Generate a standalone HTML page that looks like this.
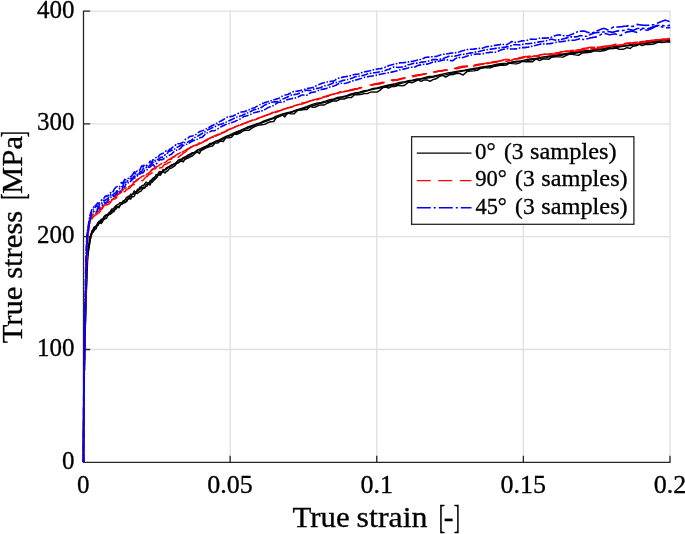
<!DOCTYPE html>
<html lang="en"><head><meta charset="utf-8"><title>True stress vs true strain</title>
<style>
html,body{margin:0;padding:0;background:#fff;}
body{width:685px;height:534px;overflow:hidden;}
svg{display:block;}
text{font-family:"Liberation Serif","DejaVu Serif",serif;fill:#000;stroke:#000;stroke-width:0.3px;}
.tk{font-size:25px;}
.lb{font-size:29px;}
.lg{font-size:22.5px;}
.k{stroke:#000;}
.r{stroke:#f00;}
.b{stroke:#00f;stroke-width:1.6;}
.ldr{stroke:#f00;stroke-dasharray:14 7.5;}
.ldb{stroke:#00f;stroke-width:1.5;stroke-dasharray:14 3 2 3;}
.c{fill:none;stroke-width:1.45;stroke-linejoin:round;}
</style></head><body>
<svg width="685" height="534" viewBox="0 0 685 534">
<rect width="685" height="534" fill="#fff"/>
<path d="M230.12 11.1 V462.3 M376.75 11.1 V462.3 M523.38 11.1 V462.3 M670.00 11.1 V462.3 M83.5 349.50 H670.0 M83.5 236.70 H670.0 M83.5 123.90 H670.0 M83.5 11.10 H670.0 " fill="none" stroke="#dfdfdf" stroke-width="1.3"/>
<path d="M83.5 11.1 V462.3 H670.0 M83.50 462.3 v-6 M230.12 462.3 v-6 M376.75 462.3 v-6 M523.38 462.3 v-6 M670.00 462.3 v-6 M83.5 462.30 h6 M83.5 349.50 h6 M83.5 236.70 h6 M83.5 123.90 h6 M83.5 11.10 h6 " fill="none" stroke="#262626" stroke-width="1.3" stroke-linecap="square"/>
<g class="c">
<path class="k" d="M83.5 462.0 L83.5 460.9 L83.5 459.6 L83.5 458.2 L83.5 457.2 L83.5 456.0 L83.5 454.5 L83.5 453.4 L83.5 452.3 L83.5 450.8 L83.5 449.4 L83.5 448.2 L83.5 446.8 L83.5 445.5 L83.5 444.3 L83.5 443.2 L83.5 441.7 L83.5 440.3 L83.5 439.0 L83.5 437.5 L83.5 436.2 L83.5 434.6 L83.5 433.5 L83.5 432.1 L83.5 430.9 L83.5 429.6 L83.5 428.3 L83.5 427.1 L83.5 425.6 L83.6 424.1 L83.6 423.0 L83.6 421.8 L83.6 420.6 L83.6 419.5 L83.6 418.0 L83.6 416.7 L83.6 415.6 L83.6 414.2 L83.6 413.0 L83.6 411.5 L83.6 410.4 L83.6 409.3 L83.6 408.2 L83.7 406.9 L83.7 405.7 L83.7 404.1 L83.7 402.7 L83.7 401.5 L83.7 400.5 L83.7 399.3 L83.7 397.8 L83.7 396.5 L83.8 395.1 L83.8 394.0 L83.8 393.0 L83.8 391.5 L83.8 390.1 L83.8 388.9 L83.8 387.7 L83.8 386.6 L83.8 385.5 L83.9 384.5 L83.9 383.0 L83.9 381.7 L83.9 380.6 L83.9 379.2 L83.9 378.0 L84.0 377.0 L84.0 375.6 L84.0 374.1 L84.0 373.0 L84.0 371.6 L84.0 370.4 L84.1 369.4 L84.1 368.3 L84.1 367.1 L84.1 365.7 L84.1 364.4 L84.2 362.9 L84.2 361.8 L84.2 360.6 L84.2 359.4 L84.2 357.8 L84.3 356.3 L84.3 355.1 L84.3 353.8 L84.3 352.6 L84.3 351.2 L84.4 350.1 L84.4 349.1 L84.4 347.8 L84.4 346.7 L84.5 345.2 L84.5 343.8 L84.5 342.4 L84.5 341.1 L84.6 339.7 L84.6 338.2 L84.6 336.7 L84.7 335.6 L84.7 334.2 L84.7 333.1 L84.7 331.8 L84.8 330.4 L84.8 328.9 L84.8 327.5 L84.9 326.4 L84.9 325.2 L84.9 324.1 L84.9 322.5 L85.0 321.4 L85.0 320.2 L85.0 319.0 L85.1 317.9 L85.1 316.4 L85.1 315.1 L85.2 314.0 L85.2 312.7 L85.2 311.6 L85.3 310.2 L85.3 309.1 L85.3 308.0 L85.3 306.9 L85.4 305.6 L85.4 304.2 L85.5 303.0 L85.5 301.6 L85.5 300.4 L85.6 299.3 L85.6 298.1 L85.6 296.9 L85.7 295.4 L85.7 294.3 L85.7 293.2 L85.8 291.9 L85.8 290.3 L85.9 288.8 L85.9 287.4 L86.0 286.4 L86.0 284.9 L86.1 283.5 L86.1 282.4 L86.1 281.1 L86.2 280.1 L86.2 278.6 L86.3 277.2 L86.3 275.7 L86.4 274.3 L86.4 273.1 L86.5 271.7 L86.5 270.5 L86.5 269.4 L86.6 268.2 L86.6 266.9 L86.7 265.7 L86.7 264.4 L86.8 263.0 L86.8 261.9 L86.9 260.5 L86.9 259.3 L87.0 257.9 L87.1 256.7 L87.3 255.2 L87.4 254.0 L87.6 252.7 L87.8 251.3 L88.0 249.9 L88.1 248.7 L88.4 247.1 L88.5 246.2 L88.7 244.9 L88.9 243.6 L89.1 242.6 L89.3 241.2 L89.5 239.7 L89.8 238.3 L90.1 237.2 L90.5 235.7 L90.9 234.3 L91.3 233.3 L91.8 231.1 L92.4 230.3 L93.2 229.3 L93.9 227.3 L94.6 226.8 L95.5 226.6 L96.3 225.5 L97.1 224.3 L98.0 222.4 L99.1 221.2 L100.0 221.3 L101.1 219.3 L101.9 219.1 L102.9 218.9 L104.0 216.6 L105.1 215.5 L106.2 214.9 L107.3 214.5 L108.5 213.3 L109.3 212.4 L110.5 211.6 L111.5 209.2 L112.4 209.0 L113.5 208.8 L114.5 207.2 L115.6 206.0 L116.8 205.1 L117.7 204.5 L118.9 204.1 L119.9 202.7 L121.0 202.6 L122.1 202.7 L123.1 200.7 L124.2 200.8 L125.5 199.1 L126.5 197.4 L127.4 197.3 L128.3 196.1 L129.4 196.4 L130.8 194.1 L131.7 195.0 L133.1 193.4 L134.3 190.9 L135.3 191.9 L136.5 191.6 L137.5 189.3 L138.8 189.5 L140.0 186.9 L141.1 187.4 L142.2 185.4 L143.6 185.7 L145.0 183.4 L146.2 182.1 L147.4 183.1 L148.8 183.3 L150.2 180.5 L151.2 180.5 L152.1 179.2 L153.2 177.9 L154.3 177.4 L155.2 177.1 L156.2 174.6 L157.2 174.7 L158.2 173.5 L159.6 171.5 L160.9 172.2 L161.9 171.7 L163.0 169.5 L164.4 170.1 L165.9 168.3 L167.5 167.2 L168.8 167.2 L170.3 165.6 L172.0 164.7 L173.4 164.4 L175.1 163.3 L176.6 162.2 L178.0 160.4 L179.8 159.3 L181.3 159.6 L183.3 157.6 L185.5 156.8 L187.9 155.0 L190.1 154.2 L192.0 152.7 L194.7 152.4 L197.6 149.9 L200.7 148.6 L203.6 147.2 L206.7 146.0 L209.6 143.8 L212.3 142.9 L215.3 141.4 L219.1 139.8 L222.5 138.2 L226.5 136.2 L230.5 134.6 L234.5 132.7 L239.5 130.8 L243.1 129.1 L247.2 127.3 L250.9 126.0 L255.8 124.2 L260.0 122.9 L264.0 120.9 L267.7 119.7 L272.1 118.3 L276.2 116.1 L279.9 114.9 L283.4 113.8 L287.5 112.7 L292.0 111.7 L296.4 109.9 L301.4 108.4 L306.5 106.6 L311.7 104.6 L316.6 103.1 L321.0 102.5 L325.5 101.1 L329.7 99.6 L334.0 98.9 L337.6 97.4 L342.6 96.6 L346.7 95.6 L350.3 94.2 L354.7 93.0 L359.6 92.2 L364.0 90.7 L368.3 90.1 L373.1 88.5 L377.1 88.0 L380.7 87.0 L385.4 85.8 L390.1 84.7 L395.3 83.8 L399.7 82.4 L404.8 81.6 L408.5 80.8 L412.3 80.2 L417.1 78.9 L421.2 78.6 L425.0 77.4 L429.0 76.5 L433.4 76.1 L437.7 75.3 L442.5 74.1 L447.9 72.9 L452.3 72.3 L456.4 71.4 L461.2 70.6 L464.9 70.3 L469.4 69.2 L473.8 68.4 L478.3 67.7 L482.1 66.9 L487.0 66.3 L491.9 65.4 L497.1 64.3 L502.7 63.5 L507.2 63.2 L512.2 62.0 L516.9 61.1 L521.1 60.9 L526.6 59.6 L531.9 58.6 L537.5 58.1 L542.9 56.9 L548.5 56.1 L552.6 55.7 L556.5 55.0 L560.7 54.3 L565.4 53.6 L570.6 52.8 L575.3 52.5 L580.2 51.4 L585.5 50.7 L589.5 50.6 L594.8 49.4 L598.7 49.2 L603.1 48.6 L608.4 47.5 L613.7 46.6 L618.4 46.3 L622.9 45.7 L628.4 45.0 L632.9 44.2 L636.9 43.9 L641.3 43.4 L645.3 42.3 L650.8 42.1 L655.0 41.3 L660.9 40.4 L665.3 39.8 L669.7 39.7"/>
<path class="k" d="M83.5 462.0 L83.5 460.5 L83.5 459.4 L83.5 458.4 L83.5 456.8 L83.5 455.7 L83.5 454.5 L83.5 453.4 L83.5 452.0 L83.5 450.9 L83.5 449.5 L83.5 448.3 L83.5 446.8 L83.5 445.3 L83.5 443.9 L83.5 442.6 L83.6 441.3 L83.6 439.8 L83.6 438.4 L83.6 437.2 L83.6 436.1 L83.6 434.6 L83.6 433.3 L83.6 432.2 L83.6 430.8 L83.6 429.5 L83.6 428.3 L83.6 426.8 L83.6 425.6 L83.6 424.5 L83.7 423.3 L83.7 422.1 L83.7 420.6 L83.7 419.2 L83.7 418.1 L83.7 416.8 L83.7 415.7 L83.7 414.3 L83.7 412.8 L83.7 411.8 L83.8 410.4 L83.8 409.3 L83.8 408.1 L83.8 406.7 L83.8 405.1 L83.8 403.9 L83.8 402.6 L83.8 401.4 L83.9 400.3 L83.9 399.0 L83.9 397.8 L83.9 396.4 L83.9 395.0 L83.9 393.9 L84.0 392.5 L84.0 391.4 L84.0 390.0 L84.0 388.8 L84.0 387.4 L84.0 386.0 L84.1 384.6 L84.1 383.5 L84.1 382.0 L84.1 380.8 L84.1 379.4 L84.1 378.1 L84.2 376.8 L84.2 375.4 L84.2 374.2 L84.2 372.7 L84.3 371.5 L84.3 370.0 L84.3 368.6 L84.3 367.1 L84.3 365.8 L84.4 364.6 L84.4 363.1 L84.4 361.8 L84.4 360.5 L84.5 359.1 L84.5 357.9 L84.5 356.4 L84.5 355.0 L84.6 353.6 L84.6 352.4 L84.6 350.9 L84.7 349.4 L84.7 348.0 L84.7 346.5 L84.7 345.4 L84.8 343.9 L84.8 342.5 L84.8 341.2 L84.9 340.1 L84.9 338.8 L84.9 337.6 L84.9 336.6 L85.0 335.0 L85.0 333.6 L85.0 332.2 L85.1 330.8 L85.1 329.4 L85.2 328.1 L85.2 327.0 L85.2 325.8 L85.2 324.5 L85.3 323.2 L85.3 322.0 L85.3 320.9 L85.4 319.7 L85.4 318.5 L85.4 317.0 L85.5 315.9 L85.5 314.6 L85.5 313.3 L85.6 312.1 L85.6 310.8 L85.7 309.5 L85.7 308.5 L85.7 306.9 L85.8 305.6 L85.8 304.5 L85.9 302.9 L85.9 301.8 L85.9 300.4 L86.0 299.1 L86.0 298.0 L86.1 296.7 L86.1 295.4 L86.1 294.2 L86.2 293.0 L86.2 291.8 L86.3 290.5 L86.3 289.1 L86.3 288.0 L86.4 286.9 L86.4 285.5 L86.5 284.4 L86.5 283.0 L86.6 281.7 L86.6 280.2 L86.7 279.0 L86.7 277.5 L86.8 276.4 L86.8 275.3 L86.9 273.9 L86.9 272.8 L86.9 271.5 L87.0 270.1 L87.0 269.0 L87.1 267.5 L87.1 266.3 L87.2 264.8 L87.3 263.7 L87.3 262.6 L87.3 261.3 L87.4 260.1 L87.5 258.9 L87.6 257.4 L87.7 256.1 L87.8 255.1 L87.9 254.0 L88.1 252.7 L88.3 251.2 L88.5 249.8 L88.7 248.6 L88.8 247.4 L89.0 246.2 L89.2 245.0 L89.3 244.1 L89.6 242.5 L89.8 241.4 L90.0 240.2 L90.3 238.5 L90.5 237.4 L90.8 237.0 L91.2 234.9 L91.7 233.6 L92.1 232.1 L92.8 231.1 L93.5 230.1 L94.3 229.0 L95.1 228.0 L95.9 226.4 L96.7 225.4 L97.4 224.9 L98.3 224.0 L99.2 222.7 L100.1 223.3 L101.2 221.1 L102.3 220.1 L103.5 218.4 L104.5 218.8 L105.5 216.3 L106.4 215.2 L107.2 214.9 L108.2 215.2 L109.1 213.1 L110.1 214.0 L111.0 212.3 L112.3 210.1 L113.3 210.2 L114.3 210.8 L115.5 207.9 L116.7 206.5 L117.9 206.8 L119.2 206.3 L120.4 205.2 L121.4 203.4 L122.7 202.7 L123.6 202.1 L124.9 201.6 L126.0 201.4 L127.0 199.1 L128.1 199.1 L129.2 197.2 L130.6 196.8 L131.8 194.8 L133.1 194.0 L134.2 193.9 L135.3 192.3 L136.3 192.7 L137.6 190.8 L138.6 190.5 L139.7 189.5 L140.7 188.6 L142.1 187.9 L143.5 187.5 L144.7 187.9 L146.1 184.4 L147.2 184.5 L148.5 183.3 L149.7 182.1 L150.8 181.9 L152.0 180.1 L153.0 179.6 L154.0 179.4 L155.2 176.5 L156.4 176.6 L157.8 175.4 L158.9 173.6 L159.9 173.6 L161.0 172.7 L162.1 171.6 L163.2 171.7 L164.4 169.7 L165.9 169.8 L167.0 168.6 L168.5 167.3 L169.7 167.0 L170.9 166.2 L172.3 165.9 L173.7 163.9 L175.2 163.7 L176.6 162.8 L178.3 162.7 L180.3 160.3 L181.7 160.5 L183.3 158.4 L185.3 158.1 L187.2 156.9 L189.1 156.0 L191.7 154.2 L193.9 152.6 L196.7 151.2 L199.4 150.9 L201.5 149.4 L204.1 147.7 L206.5 147.1 L209.5 145.1 L213.2 143.3 L215.9 141.9 L218.7 141.2 L221.6 140.0 L225.0 137.8 L228.3 136.6 L233.1 134.6 L237.7 132.8 L242.6 129.9 L246.9 128.6 L251.6 126.8 L256.2 124.6 L260.1 123.5 L264.6 121.8 L268.5 120.4 L272.7 118.7 L277.5 117.1 L281.4 115.6 L285.1 114.6 L290.0 112.8 L294.3 111.3 L298.1 109.9 L302.2 109.2 L306.1 107.9 L311.2 106.3 L315.6 104.7 L320.7 103.2 L325.1 102.4 L330.3 100.8 L335.5 99.0 L340.1 97.9 L345.1 96.6 L349.2 95.5 L353.0 94.4 L357.7 93.6 L361.4 92.6 L365.8 91.3 L370.6 89.9 L375.6 88.9 L380.9 87.8 L384.9 87.1 L390.1 85.7 L394.7 85.0 L399.5 83.7 L404.0 82.6 L409.2 81.1 L413.5 80.5 L417.2 79.7 L422.4 78.9 L427.3 78.0 L432.4 77.2 L436.3 76.2 L440.4 75.1 L445.3 74.9 L450.4 73.5 L455.4 72.5 L460.2 71.6 L465.2 70.5 L469.2 70.2 L473.9 69.3 L478.2 68.8 L483.4 67.8 L488.1 66.9 L493.3 66.2 L498.4 65.0 L503.9 64.1 L509.3 63.2 L513.2 62.4 L518.3 61.8 L522.8 61.0 L526.8 60.6 L531.6 59.7 L537.0 58.5 L542.4 58.1 L546.4 57.7 L550.7 56.4 L555.8 55.9 L561.6 55.2 L565.6 54.3 L569.6 53.9 L574.8 53.2 L579.9 52.2 L585.3 51.8 L589.6 51.2 L594.5 50.1 L599.9 49.6 L604.5 49.2 L609.2 48.3 L613.2 47.9 L618.7 47.1 L623.5 46.3 L628.1 45.9 L633.3 45.1 L638.9 44.1 L644.6 43.6 L649.2 43.1 L654.4 42.4 L659.1 41.4 L664.7 40.9 L670.2 40.4"/>
<path class="k" d="M83.5 462.0 L83.5 460.9 L83.5 459.5 L83.5 458.0 L83.5 456.7 L83.5 455.6 L83.5 454.4 L83.5 453.1 L83.5 451.7 L83.5 450.2 L83.5 448.8 L83.5 447.5 L83.6 446.0 L83.6 444.7 L83.6 443.3 L83.6 442.2 L83.6 440.9 L83.6 439.8 L83.6 438.7 L83.6 437.5 L83.6 436.1 L83.6 435.0 L83.6 433.6 L83.6 432.4 L83.6 431.2 L83.6 429.7 L83.7 428.3 L83.7 427.1 L83.7 426.0 L83.7 424.7 L83.7 423.2 L83.7 421.9 L83.7 420.7 L83.7 419.6 L83.7 418.4 L83.7 417.0 L83.8 415.9 L83.8 414.3 L83.8 412.9 L83.8 411.6 L83.8 410.5 L83.8 409.2 L83.8 407.7 L83.8 406.6 L83.9 405.4 L83.9 404.3 L83.9 402.9 L83.9 401.4 L83.9 400.0 L83.9 398.8 L84.0 397.3 L84.0 395.9 L84.0 394.4 L84.0 393.2 L84.0 392.0 L84.0 391.0 L84.1 389.8 L84.1 388.5 L84.1 387.1 L84.1 385.8 L84.1 384.6 L84.2 383.1 L84.2 381.8 L84.2 380.4 L84.2 378.9 L84.2 377.6 L84.3 376.4 L84.3 374.9 L84.3 373.7 L84.3 372.6 L84.3 371.2 L84.4 369.9 L84.4 368.7 L84.4 367.3 L84.4 366.2 L84.5 364.9 L84.5 363.4 L84.5 361.9 L84.5 360.6 L84.6 359.1 L84.6 357.7 L84.6 356.6 L84.7 355.1 L84.7 353.7 L84.7 352.4 L84.7 350.8 L84.8 349.5 L84.8 348.3 L84.8 347.0 L84.9 345.7 L84.9 344.2 L84.9 342.7 L85.0 341.5 L85.0 340.2 L85.0 339.1 L85.0 337.8 L85.1 336.3 L85.1 335.2 L85.1 333.8 L85.2 332.7 L85.2 331.2 L85.2 329.8 L85.3 328.3 L85.3 327.1 L85.3 326.0 L85.4 324.6 L85.4 323.6 L85.4 322.1 L85.5 321.0 L85.5 319.9 L85.5 318.8 L85.6 317.3 L85.6 316.3 L85.6 315.0 L85.7 313.9 L85.7 312.5 L85.8 311.4 L85.8 310.3 L85.8 308.8 L85.9 307.5 L85.9 306.4 L86.0 304.9 L86.0 303.6 L86.0 302.4 L86.1 301.0 L86.1 299.7 L86.2 298.2 L86.2 296.9 L86.3 295.7 L86.3 294.4 L86.3 292.9 L86.4 291.8 L86.4 290.4 L86.5 289.1 L86.5 287.7 L86.6 286.4 L86.6 285.3 L86.7 283.9 L86.7 282.4 L86.8 281.1 L86.8 280.0 L86.9 278.6 L86.9 277.3 L87.0 275.9 L87.0 274.8 L87.1 273.4 L87.1 272.1 L87.2 270.6 L87.2 269.5 L87.3 268.4 L87.3 267.2 L87.4 265.8 L87.4 264.4 L87.5 262.9 L87.5 261.8 L87.6 260.4 L87.6 259.4 L87.7 258.2 L87.8 257.2 L87.9 255.8 L88.1 254.3 L88.3 253.0 L88.4 251.6 L88.6 250.1 L88.8 248.9 L89.0 247.8 L89.2 246.4 L89.4 245.2 L89.6 243.9 L89.8 243.0 L90.0 241.6 L90.2 240.4 L90.4 239.3 L90.7 238.4 L90.9 237.2 L91.2 235.7 L91.6 235.1 L92.1 233.0 L92.5 232.4 L93.2 232.3 L93.8 231.0 L94.6 230.1 L95.2 229.2 L96.1 228.8 L96.8 226.9 L97.6 224.3 L98.3 225.2 L99.3 221.5 L100.2 221.5 L101.2 223.5 L102.3 222.0 L103.5 219.8 L104.5 219.2 L105.3 218.6 L106.5 218.2 L107.5 216.0 L108.4 215.2 L109.5 214.4 L110.7 213.9 L111.6 213.3 L112.5 212.0 L113.7 211.9 L114.8 209.5 L115.8 209.4 L116.8 208.1 L118.1 206.8 L119.0 207.8 L120.0 205.8 L121.1 204.4 L122.4 204.1 L123.5 202.5 L124.4 202.9 L125.7 202.1 L127.0 201.2 L128.1 198.8 L129.4 198.5 L130.7 199.1 L131.8 196.6 L133.1 196.8 L134.4 196.0 L135.8 192.8 L137.3 193.6 L138.5 192.4 L139.6 191.7 L140.8 191.4 L142.1 189.5 L143.3 188.4 L144.5 188.0 L145.7 186.4 L147.2 186.0 L148.7 183.2 L149.9 185.1 L151.1 182.5 L152.2 182.3 L153.2 181.1 L154.6 179.6 L155.8 178.6 L157.0 177.3 L158.2 175.0 L159.3 174.8 L160.4 175.2 L161.9 172.6 L163.5 171.6 L165.0 173.0 L166.3 171.5 L167.7 170.9 L169.2 168.8 L170.6 168.2 L172.2 167.6 L174.0 166.4 L175.4 165.1 L177.3 162.9 L179.0 162.5 L181.1 160.7 L183.2 161.9 L184.7 159.5 L186.7 158.5 L188.4 158.0 L190.4 156.7 L192.7 155.8 L194.7 153.8 L197.0 151.9 L199.3 153.5 L201.2 150.4 L203.4 149.5 L205.5 148.1 L207.8 147.2 L210.4 146.4 L212.5 146.0 L215.1 143.1 L217.7 143.1 L220.2 141.0 L223.2 141.5 L225.8 137.9 L229.0 137.8 L231.4 137.4 L234.3 134.0 L236.7 134.4 L240.1 133.0 L243.3 130.8 L245.9 130.3 L248.7 130.4 L251.2 128.6 L254.7 126.6 L258.1 125.4 L261.6 124.8 L264.8 124.4 L267.5 122.9 L270.5 121.8 L273.7 121.5 L276.6 117.3 L279.1 116.5 L282.2 114.6 L284.8 116.9 L287.5 112.8 L290.9 113.9 L294.1 113.7 L297.6 110.4 L300.9 110.1 L304.2 109.5 L306.9 109.6 L310.3 106.3 L312.9 107.4 L315.4 107.0 L318.3 105.6 L321.0 104.9 L324.4 105.0 L327.2 103.2 L329.8 102.2 L333.3 100.9 L336.9 100.9 L340.3 99.0 L344.0 99.0 L347.5 97.5 L351.2 97.6 L354.6 94.8 L358.1 94.8 L361.7 94.2 L364.3 93.6 L367.3 93.6 L370.6 92.1 L373.6 91.9 L377.2 92.1 L379.8 90.4 L382.5 87.9 L385.5 86.8 L388.5 88.2 L392.1 86.4 L394.7 86.5 L398.3 85.2 L402.1 85.9 L404.7 85.2 L408.5 82.1 L411.9 82.8 L414.7 81.6 L418.3 79.9 L421.1 81.3 L424.1 79.9 L427.0 79.9 L430.1 81.3 L432.9 79.6 L435.9 78.8 L439.3 76.6 L442.5 75.3 L445.7 77.1 L449.5 74.8 L453.2 74.5 L455.9 73.5 L459.5 73.4 L463.1 75.0 L466.9 71.6 L470.0 71.1 L473.8 70.9 L477.2 70.4 L480.4 68.4 L483.7 67.2 L486.8 67.9 L490.3 67.7 L493.6 66.5 L497.4 65.7 L500.6 65.2 L503.3 65.3 L506.2 65.1 L509.3 63.1 L512.6 63.6 L516.3 63.9 L519.7 62.9 L522.5 61.2 L525.6 61.7 L528.9 61.6 L532.6 61.8 L536.2 58.8 L539.7 60.6 L542.6 59.0 L546.0 59.1 L549.0 59.2 L551.7 57.2 L555.4 56.7 L558.9 56.9 L562.9 57.1 L566.5 55.3 L569.5 54.0 L572.2 54.3 L575.4 54.9 L578.5 55.3 L581.9 53.1 L585.0 52.8 L587.7 52.6 L590.5 52.3 L593.6 51.0 L597.1 51.0 L600.0 51.3 L602.9 50.7 L605.9 50.2 L609.5 48.7 L613.2 48.6 L616.6 48.0 L619.3 49.4 L623.2 49.3 L627.1 47.6 L630.2 48.5 L632.9 46.2 L636.2 45.8 L639.1 44.4 L642.3 45.5 L645.5 44.4 L648.6 44.5 L652.5 44.4 L655.8 43.2 L658.6 42.0 L662.1 42.6 L666.0 42.0 L669.0 41.7 L670.4 42.2"/>
<path class="r" d="M83.5 462.0 L83.5 461.0 L83.5 460.0 L83.5 459.0 L83.5 458.0 L83.5 457.0 L83.5 456.0 L83.5 455.0 L83.5 454.0 L83.5 453.0 L83.5 452.0 L83.5 451.0 L83.5 450.0 L83.5 449.6 M83.5 441.8 L83.5 440.8 L83.5 439.8 L83.5 438.8 L83.5 437.8 L83.5 436.8 L83.5 435.8 L83.5 434.8 L83.5 433.8 L83.5 432.8 L83.5 431.8 L83.5 430.8 L83.6 429.8 L83.6 428.8 L83.6 428.0 M83.6 420.4 L83.6 419.4 L83.6 418.4 L83.6 417.4 L83.6 416.4 L83.6 415.4 L83.6 414.4 L83.6 413.4 L83.7 412.4 L83.7 411.4 L83.7 410.4 L83.7 409.4 L83.7 408.4 L83.7 407.4 L83.7 406.6 M83.8 398.8 L83.8 397.8 L83.8 396.8 L83.8 395.8 L83.8 394.8 L83.8 393.8 L83.8 392.8 L83.8 391.8 L83.9 390.8 L83.9 389.8 L83.9 388.8 L83.9 387.8 L83.9 386.8 L83.9 385.8 L83.9 385.0 M84.0 377.4 L84.0 376.4 L84.0 375.4 L84.1 374.4 L84.1 373.4 L84.1 372.4 L84.1 371.4 L84.1 370.4 L84.1 369.4 L84.1 368.4 L84.2 367.4 L84.2 366.4 L84.2 365.4 L84.2 364.4 L84.2 363.6 M84.3 355.8 L84.3 354.8 L84.4 353.8 L84.4 352.8 L84.4 351.8 L84.4 350.8 L84.4 349.8 L84.4 348.8 L84.5 347.8 L84.5 346.8 L84.5 345.8 L84.5 344.8 L84.5 343.8 L84.5 342.8 L84.6 342.0 M84.7 334.4 L84.7 333.4 L84.7 332.4 L84.7 331.4 L84.8 330.4 L84.8 329.4 L84.8 328.4 L84.8 327.4 L84.8 326.4 L84.9 325.4 L84.9 324.4 L84.9 323.4 L84.9 322.4 L84.9 321.4 L85.0 320.6 M85.1 312.8 L85.1 311.8 L85.1 310.8 L85.2 309.8 L85.2 308.8 L85.2 307.8 L85.2 306.8 L85.3 305.8 L85.3 304.8 L85.3 303.8 L85.3 302.8 L85.3 301.8 L85.4 300.8 L85.4 299.8 L85.4 299.0 M85.6 291.4 L85.6 290.4 L85.6 289.4 L85.6 288.4 L85.7 287.4 L85.7 286.4 L85.7 285.4 L85.7 284.4 L85.7 283.4 L85.8 282.4 L85.8 281.4 L85.8 280.4 L85.8 279.4 L85.9 278.4 L85.9 277.6 M86.1 269.8 L86.1 268.8 L86.1 267.8 L86.1 266.8 L86.2 265.8 L86.2 264.8 L86.2 263.8 L86.2 262.8 L86.3 261.8 L86.3 260.8 L86.3 259.8 L86.3 258.8 L86.4 257.8 L86.4 256.8 L86.4 256.0 M86.7 248.4 L86.7 247.4 L86.7 246.4 L86.8 245.4 L86.8 244.4 L86.9 243.4 L86.9 242.4 L87.0 241.4 L87.0 240.4 L87.1 239.4 L87.2 238.4 L87.2 237.4 L87.3 236.4 L87.4 235.5 L87.5 234.7 M88.6 226.9 L88.7 226.0 L88.9 225.0 L89.2 224.0 L89.4 223.0 L89.6 222.1 L89.9 221.1 L90.3 220.2 L90.7 219.3 L91.1 218.3 L91.5 217.4 L91.9 216.5 L92.3 215.6 L92.9 214.8 L93.6 214.2 L94.0 214.2 M99.6 209.1 L100.4 208.5 L101.1 207.9 L102.1 207.9 L102.6 207.1 L103.1 206.2 L103.7 205.4 L104.6 204.9 L105.6 204.8 L106.4 204.2 L107.0 203.4 L107.4 202.6 L108.0 201.9 L108.8 202.4 L109.5 201.6 L110.1 200.9 L110.2 200.7 M115.7 195.2 L116.4 194.5 L117.3 194.5 L118.1 194.2 L118.9 193.5 L119.6 192.8 L120.3 192.2 L121.1 191.6 L121.9 190.9 L122.6 190.3 L123.4 189.6 L124.0 188.9 L125.0 188.6 L125.8 188.1 L126.5 187.4 L126.7 187.3 M132.9 182.5 L133.6 181.8 L134.5 181.6 L135.4 181.4 L135.9 180.6 L136.5 179.8 L137.4 179.3 L138.3 178.8 L139.2 178.4 L140.1 178.0 L140.9 177.4 L141.6 176.7 L142.4 176.1 L143.3 176.1 L144.0 175.6 L144.4 175.1 M150.6 170.9 L151.4 170.2 L152.0 169.4 L152.7 168.8 L153.7 168.4 L154.6 168.3 L155.2 167.5 L155.8 166.7 L156.7 166.4 L157.7 166.2 L158.6 165.9 L159.3 165.1 L160.1 164.6 L161.0 164.1 L161.7 163.4 L162.2 163.0 M168.8 159.4 L169.8 159.4 L170.6 158.9 L171.3 158.2 L172.1 157.6 L173.0 157.2 L174.0 157.1 L174.7 156.5 L175.4 155.8 L176.1 155.1 L176.9 154.5 L177.8 154.0 L178.7 153.7 L179.6 153.2 L180.4 152.6 L180.8 152.2 M187.7 149.1 L188.5 148.5 L189.3 147.9 L190.2 147.5 L191.1 147.0 L192.0 146.6 L192.9 146.2 L193.8 145.8 L194.7 145.4 L195.7 145.0 L196.6 144.7 L197.5 144.3 L198.3 143.7 L199.1 143.1 L200.0 142.5 M206.8 139.7 L207.7 139.2 L208.5 138.8 L209.4 138.3 L210.3 137.8 L211.2 137.3 L212.1 136.9 L213.0 136.5 L213.9 136.1 L214.8 135.7 L215.7 135.3 L216.6 134.9 L217.6 134.5 L218.5 134.1 L219.4 133.7 M226.4 130.3 L227.4 130.0 L228.3 129.6 L229.2 129.3 L230.2 129.0 L231.1 128.6 L232.1 128.3 L233.0 127.9 L233.9 127.5 L234.8 127.0 L235.7 126.6 L236.6 126.2 L237.5 125.7 L238.4 125.4 L239.2 125.1 M246.3 122.4 L247.2 122.0 L248.1 121.7 L249.1 121.3 L250.0 120.9 L250.9 120.6 L251.9 120.3 L252.9 120.1 L253.9 119.9 L254.8 119.6 L255.8 119.4 L256.7 118.9 L257.6 118.4 L258.4 118.0 L259.3 117.5 M266.4 114.9 L267.4 114.7 L268.4 114.5 L269.3 114.2 L270.3 114.0 L271.2 113.6 L272.1 113.2 L273.0 112.7 L273.9 112.3 L274.8 111.9 L275.8 111.6 L276.7 111.3 L277.7 111.0 L278.6 110.7 L279.6 110.3 M286.7 108.0 L287.7 107.8 L288.7 107.6 L289.7 107.3 L290.6 107.0 L291.6 106.7 L292.5 106.4 L293.5 106.0 L294.4 105.7 L295.4 105.4 L296.3 105.2 L297.3 104.9 L298.2 104.5 L299.2 104.2 L299.9 103.9 M307.4 101.6 L308.3 101.4 L309.3 101.1 L310.2 100.8 L311.2 100.5 L312.2 100.2 L313.1 99.9 L314.1 99.7 L315.1 99.4 L316.0 99.2 L317.0 99.0 L318.0 98.8 L318.9 98.4 L319.9 98.1 L320.6 97.8 M327.9 95.8 L328.9 95.5 L329.8 95.1 L330.7 94.7 L331.7 94.4 L332.6 94.2 L333.6 94.0 L334.6 93.8 L335.6 93.6 L336.5 93.2 L337.4 92.9 L338.4 92.5 L339.3 92.1 L340.2 91.7 L341.2 91.5 L341.4 91.5 M348.7 90.6 L349.7 90.3 L350.6 90.0 L351.6 89.7 L352.5 89.4 L353.5 89.1 L354.5 88.9 L355.5 88.8 L356.5 88.8 L357.5 88.7 L358.5 88.6 L359.4 88.3 L360.3 87.9 L361.2 87.6 L362.2 87.2 M369.7 85.2 L370.6 84.9 L371.6 84.7 L372.6 84.4 L373.5 84.2 L374.5 84.0 L375.5 83.8 L376.5 83.6 L377.5 83.4 L378.4 83.2 L379.4 83.0 L380.4 82.8 L381.4 82.5 L382.3 82.3 L383.1 82.1 M390.7 80.3 L391.7 80.1 L392.7 80.0 L393.7 79.9 L394.7 79.9 L395.7 79.8 L396.7 79.8 L397.7 79.7 L398.6 79.5 L399.5 79.1 L400.5 78.8 L401.4 78.4 L402.4 78.1 L403.4 78.0 L404.2 77.9 M411.7 76.1 L412.7 75.8 L413.6 75.6 L414.6 75.4 L415.6 75.3 L416.6 75.2 L417.6 75.0 L418.6 74.9 L419.6 74.7 L420.6 74.6 L421.6 74.4 L422.6 74.3 L423.5 74.1 L424.5 73.9 L425.3 73.7 M432.9 72.1 L433.9 71.9 L434.9 71.7 L435.9 71.5 L436.9 71.4 L437.8 71.2 L438.8 71.0 L439.8 70.9 L440.8 70.7 L441.8 70.5 L442.8 70.4 L443.8 70.2 L444.8 70.1 L445.7 69.9 L446.3 69.9 M454.0 68.6 L455.0 68.3 L455.9 67.9 L456.9 67.6 L457.8 67.3 L458.8 67.1 L459.8 66.9 L460.7 66.7 L461.7 66.4 L462.7 66.2 L463.7 66.1 L464.7 66.1 L465.7 66.0 L466.7 65.9 L467.5 65.9 M475.2 64.8 L476.2 64.6 L477.2 64.5 L478.2 64.4 L479.2 64.2 L480.2 64.1 L481.1 64.0 L482.1 63.8 L483.1 63.7 L484.1 63.5 L485.1 63.4 L486.1 63.2 L487.0 62.9 L488.0 62.7 L488.8 62.4 M496.5 61.7 L497.4 61.5 L498.4 61.2 L499.4 60.9 L500.3 60.7 L501.3 60.4 L502.3 60.2 L503.2 59.9 L504.2 59.6 L505.2 59.4 L506.2 59.4 L507.2 59.5 L508.2 59.5 L509.2 59.5 L509.9 59.4 M517.6 58.1 L518.6 57.9 L519.6 57.7 L520.6 57.5 L521.5 57.2 L522.5 57.0 L523.5 56.7 L524.4 56.6 L525.4 56.5 L526.4 56.4 L527.4 56.4 L528.4 56.3 L529.4 56.2 L530.4 56.1 L531.2 56.0 M538.9 54.9 L539.9 54.8 L540.9 54.7 L541.9 54.6 L542.9 54.5 L543.9 54.4 L544.9 54.3 L545.9 54.2 L546.9 54.1 L547.9 54.0 L548.9 53.9 L549.9 53.8 L550.9 53.6 L551.9 53.5 L552.7 53.4 M560.3 52.0 L561.3 51.8 L562.3 51.6 L563.3 51.6 L564.3 51.6 L565.3 51.6 L566.3 51.5 L567.3 51.4 L568.2 51.2 L569.2 50.9 L570.2 50.7 L571.2 50.5 L572.2 50.4 L573.2 50.3 L574.0 50.2 M581.4 48.9 L582.4 48.7 L583.4 48.5 L584.4 48.3 L585.4 48.1 L586.3 48.0 L587.3 47.8 L588.3 47.6 L589.3 47.4 L590.3 47.2 L591.3 47.3 L592.3 47.3 L593.3 47.3 L594.3 47.3 L595.1 47.3 M602.8 46.3 L603.8 46.2 L604.8 46.1 L605.8 46.0 L606.8 46.0 L607.8 45.9 L608.8 45.8 L609.7 45.6 L610.7 45.4 L611.7 45.1 L612.7 44.9 L613.6 44.6 L614.6 44.4 L615.6 44.2 L616.6 44.1 M624.1 43.7 L625.1 43.6 L626.1 43.5 L627.1 43.4 L628.1 43.3 L629.1 43.2 L630.1 43.0 L631.1 42.9 L632.1 42.7 L633.1 42.6 L634.0 42.4 L635.0 42.3 L636.0 42.1 L637.0 42.0 L637.8 41.9 M645.5 40.7 L646.5 40.6 L647.5 40.6 L648.5 40.6 L649.5 40.6 L650.5 40.5 L651.5 40.3 L652.5 40.2 L653.5 40.1 L654.5 39.9 L655.5 39.8 L656.4 39.7 L657.4 39.6 L658.4 39.6 L659.2 39.5 M666.8 38.9 L667.8 38.7 L668.7 38.4 L669.5 38.2"/>
<path class="r" d="M83.5 462.0 L83.5 461.0 L83.5 460.0 L83.5 459.0 L83.5 458.0 L83.5 457.6 M83.5 449.0 L83.5 448.0 L83.5 447.0 L83.5 446.0 L83.5 445.0 L83.5 444.0 L83.5 443.0 L83.5 442.0 L83.5 441.0 L83.5 440.0 L83.6 439.0 L83.6 438.0 L83.6 437.0 L83.6 436.0 L83.6 435.2 M83.6 427.6 L83.6 426.6 L83.6 425.6 L83.6 424.6 L83.6 423.6 L83.6 422.6 L83.7 421.6 L83.7 420.6 L83.7 419.6 L83.7 418.6 L83.7 417.6 L83.7 416.6 L83.7 415.6 L83.7 414.6 L83.7 413.8 M83.8 406.0 L83.8 405.0 L83.8 404.0 L83.8 403.0 L83.8 402.0 L83.8 401.0 L83.9 400.0 L83.9 399.0 L83.9 398.0 L83.9 397.0 L83.9 396.0 L83.9 395.0 L83.9 394.0 L83.9 393.0 L83.9 392.2 M84.0 384.6 L84.1 383.6 L84.1 382.6 L84.1 381.6 L84.1 380.6 L84.1 379.6 L84.1 378.6 L84.1 377.6 L84.2 376.6 L84.2 375.6 L84.2 374.6 L84.2 373.6 L84.2 372.6 L84.2 371.6 L84.2 370.8 M84.4 363.0 L84.4 362.0 L84.4 361.0 L84.4 360.0 L84.4 359.0 L84.4 358.0 L84.5 357.0 L84.5 356.0 L84.5 355.0 L84.5 354.0 L84.5 353.0 L84.6 352.0 L84.6 351.0 L84.6 350.0 L84.6 349.2 M84.7 341.6 L84.8 340.6 L84.8 339.6 L84.8 338.6 L84.8 337.6 L84.8 336.6 L84.9 335.6 L84.9 334.6 L84.9 333.6 L84.9 332.6 L84.9 331.6 L85.0 330.6 L85.0 329.6 L85.0 328.6 L85.0 327.8 M85.2 320.0 L85.2 319.0 L85.2 318.0 L85.2 317.0 L85.3 316.0 L85.3 315.0 L85.3 314.0 L85.3 313.0 L85.4 312.0 L85.4 311.0 L85.4 310.0 L85.4 309.0 L85.4 308.0 L85.5 307.0 L85.5 306.2 M85.7 298.6 L85.7 297.6 L85.7 296.6 L85.7 295.6 L85.7 294.6 L85.8 293.6 L85.8 292.6 L85.8 291.6 L85.8 290.6 L85.9 289.6 L85.9 288.6 L85.9 287.6 L85.9 286.6 L86.0 285.6 L86.0 284.8 M86.2 277.0 L86.2 276.0 L86.2 275.0 L86.2 274.0 L86.3 273.0 L86.3 272.0 L86.3 271.0 L86.3 270.0 L86.4 269.0 L86.4 268.0 L86.4 267.0 L86.4 266.0 L86.5 265.0 L86.5 264.0 L86.5 263.2 M86.7 255.6 L86.7 254.6 L86.8 253.6 L86.8 252.6 L86.8 251.6 L86.9 250.6 L86.9 249.6 L87.0 248.6 L87.0 247.6 L87.0 246.6 L87.1 245.6 L87.1 244.6 L87.2 243.6 L87.2 242.6 L87.3 241.8 M87.8 234.1 L87.9 233.1 L88.0 232.1 L88.2 231.1 L88.3 230.1 L88.5 229.1 L88.7 228.1 L88.8 227.1 L89.0 226.2 L89.2 225.2 L89.4 224.2 L89.7 223.2 L89.9 222.3 L90.3 221.3 L90.6 220.4 M95.1 213.9 L95.9 213.4 L96.5 212.6 L97.3 211.9 L98.1 211.4 L99.0 210.9 L99.5 210.0 L100.2 209.3 L101.0 209.0 L102.0 209.2 L102.4 208.3 L102.9 207.4 L103.4 206.6 L104.0 205.7 L104.8 205.1 L105.2 205.0 M111.2 200.3 L111.7 199.5 L112.5 199.2 L113.3 198.9 L113.9 198.1 L114.7 197.9 L115.4 197.5 L115.8 196.6 L116.4 195.9 L117.3 195.3 L118.0 194.6 L118.8 194.0 L119.6 193.5 L120.5 193.0 L121.2 192.3 L122.0 191.7 M128.1 187.5 L128.9 186.9 L129.5 186.1 L130.3 186.0 L131.1 185.8 L131.7 185.1 L132.4 184.3 L133.1 183.6 L133.8 182.9 L134.5 182.2 L135.3 181.7 L136.1 181.1 L137.0 180.5 L137.8 179.9 L138.4 179.2 L139.0 178.7 M145.7 175.4 L146.4 174.8 L147.0 174.0 L147.8 173.5 L148.7 173.3 L149.3 172.5 L150.0 171.8 L150.9 171.3 L151.6 170.6 L152.2 169.8 L153.1 169.4 L154.1 169.1 L155.1 168.9 L155.8 168.3 L156.6 167.6 L157.0 167.2 M163.5 162.6 L164.4 162.8 L165.3 162.4 L166.1 161.8 L166.8 161.1 L167.6 160.4 L168.3 159.8 L169.1 159.3 L170.1 159.1 L171.1 159.3 L171.7 158.5 L172.2 157.6 L172.9 157.1 L173.9 156.7 L174.7 156.2 L175.3 156.0 M181.9 152.4 L182.7 151.8 L183.6 151.2 L184.5 150.8 L185.4 150.4 L186.2 149.8 L187.0 149.2 L187.9 148.9 L188.9 148.7 L189.8 148.3 L190.6 147.7 L191.5 147.1 L192.3 146.7 L193.2 146.2 L194.1 145.9 M201.2 143.2 L202.0 142.6 L202.8 142.1 L203.6 141.5 L204.5 140.9 L205.3 140.5 L206.2 140.0 L207.1 139.5 L208.0 139.1 L208.9 138.7 L209.8 138.3 L210.7 137.8 L211.7 137.6 L212.7 137.4 L213.7 137.2 M220.6 133.3 L221.5 132.8 L222.4 132.5 L223.4 132.1 L224.3 131.7 L225.2 131.3 L226.1 130.9 L227.0 130.5 L227.9 130.0 L228.8 129.6 L229.7 129.2 L230.7 128.9 L231.6 128.6 L232.6 128.2 L233.1 128.0 M240.2 124.8 L241.2 124.5 L242.1 124.1 L243.0 123.7 L243.9 123.3 L244.9 123.0 L245.8 122.7 L246.8 122.4 L247.7 122.1 L248.7 121.8 L249.6 121.4 L250.6 121.1 L251.5 120.8 L252.5 120.5 L253.2 120.3 M260.5 117.5 L261.5 117.1 L262.4 116.8 L263.3 116.4 L264.3 116.1 L265.2 115.7 L266.1 115.3 L267.1 115.0 L268.0 114.6 L268.9 114.2 L269.8 113.9 L270.7 113.4 L271.6 113.0 L272.5 112.5 L273.4 112.1 M280.7 110.1 L281.7 109.8 L282.6 109.5 L283.6 109.2 L284.5 108.9 L285.5 108.7 L286.5 108.4 L287.4 108.1 L288.4 107.9 L289.4 107.7 L290.4 107.4 L291.3 107.2 L292.3 106.9 L293.2 106.6 L293.8 106.4 M301.1 103.2 L302.1 103.0 L303.1 102.9 L304.1 102.7 L305.1 102.5 L306.0 102.2 L307.0 101.9 L307.9 101.6 L308.9 101.3 L309.8 101.1 L310.8 100.8 L311.8 100.6 L312.8 100.4 L313.7 100.2 L314.3 100.0 M321.7 97.6 L322.7 97.2 L323.6 96.9 L324.5 96.5 L325.5 96.2 L326.4 95.9 L327.4 95.7 L328.4 95.5 L329.4 95.3 L330.3 95.0 L331.3 94.8 L332.3 94.6 L333.3 94.4 L334.2 94.2 L335.0 94.0 M343.0 91.6 L344.0 91.5 L345.0 91.3 L346.0 91.2 L347.0 91.0 L348.0 90.8 L348.9 90.5 L349.9 90.3 L350.9 90.0 L351.8 89.8 L352.8 89.6 L353.8 89.4 L354.8 89.3 L355.8 89.1 L356.8 88.9 L357.7 88.6 L358.7 88.3 L359.6 88.0 L360.6 87.7 L361.5 87.5 L361.7 87.4 M370.5 85.3 L371.5 85.1 L372.4 84.9 L373.4 84.7 L374.4 84.5 L375.4 84.3 L376.4 84.1 L377.3 83.8 L378.3 83.7 L379.3 83.5 L380.3 83.3 L381.3 83.2 L382.3 83.0 L383.2 82.8 L384.0 82.5 M391.4 80.1 L392.4 79.9 L393.4 80.0 L394.4 80.1 L395.3 80.3 L396.3 80.4 L397.3 80.3 L398.2 79.9 L399.2 79.6 L400.1 79.3 L401.1 79.0 L402.1 78.7 L403.0 78.5 L404.0 78.2 L405.0 78.0 M412.5 77.1 L413.4 76.8 L414.4 76.4 L415.3 76.0 L416.2 75.6 L417.1 75.2 L418.1 75.0 L419.0 74.8 L420.0 74.6 L421.0 74.4 L422.0 74.3 L423.0 74.1 L424.0 73.9 L425.0 73.8 L425.9 73.6 M433.6 72.3 L434.6 72.1 L435.6 71.8 L436.5 71.6 L437.5 71.5 L438.5 71.4 L439.5 71.3 L440.5 71.2 L441.5 71.1 L442.5 70.8 L443.5 70.6 L444.4 70.3 L445.4 70.1 L446.4 69.9 L447.2 69.8 M454.7 68.7 L455.6 68.5 L456.6 68.3 L457.6 68.0 L458.5 67.7 L459.5 67.4 L460.5 67.2 L461.4 66.9 L462.4 66.7 L463.4 66.7 L464.4 66.6 L465.4 66.6 L466.4 66.5 L467.4 66.2 L467.8 66.2 M473.9 65.1 L474.8 65.0 L475.8 64.9 L476.8 64.8 L477.8 64.6 L478.8 64.5 L479.8 64.3 L480.8 64.2 L481.8 64.2 L482.8 64.2 L483.8 64.1 L484.4 64.1 M490.3 62.5 L491.3 62.3 L492.3 62.0 L493.2 61.8 L494.2 61.6 L495.2 61.5 L496.2 61.5 L497.2 61.4 L498.2 61.4 L499.2 61.3 L500.2 61.1 L501.2 60.8 L502.1 60.6 L503.1 60.4 L503.7 60.3 M511.4 59.9 L512.4 59.6 L513.4 59.4 L514.4 59.2 L515.4 59.1 L516.4 59.0 L517.4 58.9 L518.4 58.8 L519.3 58.7 L520.3 58.6 L521.3 58.3 L522.3 58.1 L523.2 57.8 L524.2 57.6 L525.0 57.4 M532.5 56.1 L533.5 56.1 L534.5 56.0 L535.5 55.9 L536.5 55.8 L537.4 55.6 L538.4 55.4 L539.4 55.1 L540.3 54.9 L541.3 54.6 L542.3 54.5 L543.3 54.4 L544.3 54.3 L545.3 54.2 L546.3 54.1 M553.8 53.2 L554.8 53.1 L555.8 53.0 L556.8 52.8 L557.8 52.6 L558.7 52.4 L559.7 52.2 L560.7 51.9 L561.7 51.7 L562.7 51.6 L563.7 51.4 L564.6 51.3 L565.6 51.1 L566.6 50.9 L567.6 50.8 M575.1 50.5 L576.1 50.3 L577.1 50.1 L578.0 49.8 L579.0 49.7 L580.0 49.6 L581.0 49.5 L582.0 49.4 L583.0 49.3 L584.0 49.2 L585.0 49.1 L586.0 49.1 L587.0 49.0 L588.0 48.9 L588.8 48.8 M596.5 47.5 L597.5 47.3 L598.4 47.2 L599.4 47.0 L600.4 46.9 L601.4 46.8 L602.4 46.7 L603.4 46.7 L604.4 46.7 L605.4 46.7 L606.4 46.7 L607.4 46.7 L608.4 46.6 L609.4 46.4 L610.2 46.3 M617.9 45.2 L618.9 45.2 L619.9 45.1 L620.9 45.0 L621.9 44.7 L622.8 44.4 L623.8 44.1 L624.7 43.8 L625.7 43.5 L626.6 43.3 L627.6 43.3 L628.6 43.2 L629.6 43.2 L630.6 43.2 L631.4 43.2 M639.1 42.1 L640.1 41.8 L641.1 41.6 L642.1 41.4 L643.1 41.4 L644.1 41.4 L645.1 41.4 L646.1 41.4 L647.1 41.4 L648.1 41.4 L649.1 41.3 L650.0 41.2 L651.0 41.1 L652.0 41.0 L652.8 40.9 M660.5 39.5 L661.5 39.3 L662.4 39.1 L663.4 39.0 L664.4 39.0 L665.4 39.0 L666.4 39.0 L667.4 38.9 L668.4 38.9 L669.4 38.8 L669.8 38.8"/>
<path class="r" d="M83.5 457.0 L83.5 456.0 L83.5 455.0 L83.5 454.0 L83.5 453.0 L83.5 452.0 L83.5 451.0 L83.5 450.0 L83.5 449.0 L83.5 448.0 L83.6 447.0 L83.6 446.0 L83.6 445.0 L83.6 444.0 L83.6 443.0 L83.6 442.4 M83.6 434.8 L83.6 433.8 L83.6 432.8 L83.6 431.8 L83.7 430.8 L83.7 429.8 L83.7 428.8 L83.7 427.8 L83.7 426.8 L83.7 425.8 L83.7 424.8 L83.7 423.8 L83.7 422.8 L83.7 421.8 L83.7 421.0 M83.8 413.2 L83.8 412.2 L83.8 411.2 L83.9 410.2 L83.9 409.2 L83.9 408.2 L83.9 407.2 L83.9 406.2 L83.9 405.2 L83.9 404.2 L83.9 403.2 L84.0 402.2 L84.0 401.2 L84.0 400.2 L84.0 399.4 M84.1 391.8 L84.1 390.8 L84.1 389.8 L84.1 388.8 L84.2 387.8 L84.2 386.8 L84.2 385.8 L84.2 384.8 L84.2 383.8 L84.2 382.8 L84.2 381.8 L84.3 380.8 L84.3 379.8 L84.3 378.8 L84.3 378.0 M84.4 370.2 L84.5 369.2 L84.5 368.2 L84.5 367.2 L84.5 366.2 L84.5 365.2 L84.5 364.2 L84.6 363.2 L84.6 362.2 L84.6 361.2 L84.6 360.2 L84.6 359.2 L84.7 358.2 L84.7 357.2 L84.7 356.4 M84.8 348.8 L84.9 347.8 L84.9 346.8 L84.9 345.8 L84.9 344.8 L84.9 343.8 L85.0 342.8 L85.0 341.8 L85.0 340.8 L85.0 339.8 L85.0 338.8 L85.1 337.8 L85.1 336.8 L85.1 335.8 L85.1 335.0 M85.3 327.2 L85.3 326.2 L85.3 325.2 L85.4 324.2 L85.4 323.2 L85.4 322.2 L85.4 321.2 L85.5 320.2 L85.5 319.2 L85.5 318.2 L85.5 317.2 L85.6 316.2 L85.6 315.2 L85.6 314.2 L85.6 313.4 M85.8 305.8 L85.8 304.8 L85.9 303.8 L85.9 302.8 L85.9 301.8 L85.9 300.8 L85.9 299.8 L86.0 298.8 L86.0 297.8 L86.0 296.8 L86.1 295.8 L86.1 294.8 L86.1 293.8 L86.1 292.8 L86.1 292.0 M86.3 284.2 L86.4 283.2 L86.4 282.2 L86.4 281.2 L86.5 280.2 L86.5 279.2 L86.5 278.2 L86.5 277.2 L86.6 276.2 L86.6 275.2 L86.6 274.2 L86.6 273.2 L86.7 272.2 L86.7 271.2 L86.7 270.4 M86.9 262.8 L87.0 261.8 L87.0 260.8 L87.0 259.8 L87.0 258.8 L87.1 257.8 L87.1 256.8 L87.1 255.8 L87.1 254.8 L87.2 253.8 L87.2 252.8 L87.2 251.8 L87.3 250.8 L87.3 249.8 L87.3 249.0 M87.7 241.2 L87.8 240.3 L87.8 239.3 L87.9 238.3 L87.9 237.3 L88.0 236.3 L88.1 235.3 L88.2 234.3 L88.3 233.3 L88.4 232.3 L88.6 231.3 L88.7 230.3 L88.9 229.3 L89.0 228.3 L89.2 227.5 M91.4 219.7 L91.9 218.8 L92.4 218.0 L93.0 217.1 L93.7 216.5 L94.5 215.9 L95.2 215.1 L96.1 214.8 L96.9 214.2 L97.5 213.4 L98.2 213.2 L99.0 212.8 L99.7 212.0 L100.3 211.3 L100.8 210.4 L100.9 210.2 M106.4 205.3 L107.3 204.9 L108.2 204.4 L109.1 204.1 L109.8 203.3 L110.3 202.5 L110.9 201.7 L111.4 200.8 L112.0 200.1 L112.7 199.3 L113.6 199.1 L114.6 199.0 L115.5 198.6 L116.2 198.0 L116.9 197.2 L117.2 196.7 M123.4 192.1 L124.2 191.7 L125.2 191.4 L125.7 190.6 L126.4 189.8 L127.2 189.4 L128.1 188.9 L129.0 188.5 L129.8 187.9 L130.5 187.1 L131.1 186.3 L131.8 185.6 L132.6 185.0 L133.5 184.6 L134.5 184.6 L134.8 184.5 M141.3 180.4 L142.1 180.8 L142.9 180.3 L143.7 179.6 L144.3 178.8 L145.0 178.1 L145.7 177.3 L146.4 176.7 L147.3 176.3 L148.0 175.5 L148.6 174.8 L149.5 174.4 L150.4 174.0 L151.2 173.4 L152.0 172.8 L152.7 172.5 M159.2 168.5 L160.0 167.8 L161.0 167.9 L161.8 167.4 L162.6 166.8 L163.2 166.0 L163.8 165.2 L164.6 164.7 L165.5 164.2 L166.5 164.1 L167.3 163.5 L168.1 162.9 L169.0 162.5 L169.9 162.2 L170.7 161.6 L170.9 161.5 M177.5 157.6 L178.4 157.1 L179.2 156.5 L180.0 155.9 L180.8 155.3 L181.6 154.7 L182.4 154.1 L183.1 153.4 L183.9 152.8 L184.8 152.3 L185.7 151.9 L186.3 151.1 L186.9 150.3 L187.6 149.6 L188.4 149.1 L188.6 149.1 M195.4 145.8 L196.3 145.4 L197.2 145.0 L198.1 144.6 L199.0 144.1 L199.9 143.6 L200.8 143.2 L201.7 142.7 L202.6 142.3 L203.5 141.9 L204.4 141.4 L205.3 141.0 L206.2 140.6 L207.1 140.1 L207.8 139.8 M214.8 136.4 L215.8 136.0 L216.7 135.7 L217.6 135.3 L218.5 134.9 L219.4 134.5 L220.4 134.1 L221.3 133.6 L222.2 133.2 L223.1 132.8 L224.0 132.4 L224.9 132.0 L225.8 131.5 L226.7 131.1 L227.4 130.7 M234.4 127.4 L235.3 126.9 L236.2 126.4 L237.1 126.1 L238.1 125.7 L239.0 125.4 L240.0 125.1 L240.9 124.8 L241.9 124.5 L242.8 124.1 L243.7 123.8 L244.7 123.4 L245.6 123.1 L246.6 122.8 L247.3 122.6 M254.5 120.1 L255.4 119.7 L256.4 119.3 L257.3 118.9 L258.2 118.5 L259.1 118.1 L260.0 117.7 L260.9 117.3 L261.9 116.9 L262.8 116.5 L263.7 116.1 L264.6 115.7 L265.6 115.5 L266.5 115.2 L267.5 114.9 M274.8 112.8 L275.7 112.4 L276.7 112.1 L277.6 111.8 L278.6 111.4 L279.5 111.1 L280.4 110.7 L281.3 110.3 L282.3 109.9 L283.2 109.5 L284.1 109.1 L285.0 108.8 L286.0 108.5 L286.9 108.2 L287.7 107.9 M295.1 105.5 L296.1 105.2 L297.0 104.9 L298.0 104.7 L299.0 104.6 L300.0 104.4 L301.0 104.2 L301.9 104.0 L302.9 103.7 L303.8 103.4 L304.8 103.1 L305.7 102.7 L306.7 102.4 L307.7 102.2 L308.5 102.1 M315.8 100.2 L316.7 99.8 L317.7 99.5 L318.6 99.2 L319.6 98.9 L320.5 98.5 L321.4 98.2 L322.4 97.8 L323.3 97.4 L324.2 97.1 L325.2 96.9 L326.2 96.7 L327.2 96.5 L328.2 96.3 L329.0 96.2 M336.4 93.9 L337.3 93.5 L338.3 93.2 L339.2 92.9 L340.2 92.6 L341.2 92.4 L342.1 92.1 L343.1 91.9 L344.1 91.7 L345.1 91.5 L346.0 91.3 L347.0 91.1 L348.0 90.9 L349.0 90.8 L350.0 90.6 L351.0 90.5 L352.0 90.4 L352.9 90.2 L353.9 89.9 L354.8 89.5 L355.8 89.2 L356.7 88.9 L357.7 88.6 L358.6 88.3 L359.6 88.0 L360.5 87.7 L361.1 87.5 M371.3 85.5 L372.2 85.2 L373.2 84.9 L374.1 84.5 L375.1 84.2 L376.1 84.2 L377.1 84.2 L378.1 84.2 L379.1 84.1 L380.1 84.0 L381.0 83.6 L381.9 83.3 L382.9 82.9 L383.8 82.5 L384.7 82.2 M392.2 81.1 L393.2 80.8 L394.2 80.6 L395.1 80.3 L396.1 80.0 L397.0 79.7 L398.0 79.5 L399.0 79.2 L399.9 79.0 L400.9 78.8 L401.9 78.6 L402.9 78.5 L403.9 78.3 L404.9 78.1 L405.9 77.9 M413.3 76.4 L414.3 76.2 L415.3 76.0 L416.2 75.9 L417.2 75.7 L418.2 75.6 L419.2 75.5 L420.2 75.3 L421.2 75.0 L422.1 74.8 L423.1 74.6 L424.1 74.3 L425.0 74.1 L426.0 73.8 L427.0 73.5 M434.4 72.3 L435.4 72.0 L436.4 71.8 L437.3 71.5 L438.3 71.3 L439.3 71.2 L440.3 71.0 L441.3 70.9 L442.3 70.8 L443.3 70.7 L444.2 70.5 L445.2 70.4 L446.2 70.2 L447.2 70.1 L448.0 69.9 M455.7 68.8 L456.7 68.7 L457.7 68.5 L458.7 68.3 L459.6 68.1 L460.6 67.9 L461.6 67.6 L462.6 67.4 L463.5 67.2 L464.5 67.0 L465.5 66.8 L466.5 66.7 L467.5 66.6 L468.1 66.5 M472.9 66.3 L473.8 66.0 L474.8 65.8 L475.8 65.6 L476.8 65.4 L477.7 65.2 L478.7 65.0 L479.7 64.8 L480.7 64.6 L481.7 64.4 M486.4 63.7 L487.4 63.5 L488.4 63.3 L489.4 63.2 L490.4 63.0 L491.3 62.8 L492.3 62.7 L493.3 62.6 L494.3 62.5 L495.3 62.4 L496.3 62.2 L497.3 62.1 L497.5 62.0 M505.2 61.2 L506.2 61.3 L507.2 61.2 L508.2 61.0 L509.1 60.8 L510.1 60.6 L511.1 60.4 L512.0 60.1 L513.0 59.7 L513.9 59.3 L514.8 58.9 L515.8 58.8 L516.8 58.7 L517.8 58.6 L518.8 58.6 M526.4 57.8 L527.3 57.6 L528.3 57.5 L529.3 57.3 L530.3 57.1 L531.3 56.9 L532.2 56.6 L533.2 56.4 L534.2 56.1 L535.2 56.1 L536.2 56.1 L537.2 56.2 L538.2 56.3 L539.1 56.2 L540.1 55.9 M547.8 55.0 L548.8 54.8 L549.8 54.7 L550.7 54.5 L551.7 54.4 L552.7 54.3 L553.7 54.2 L554.7 54.1 L555.7 54.0 L556.7 54.0 L557.7 53.8 L558.7 53.5 L559.6 53.2 L560.6 53.0 L561.4 52.7 M569.0 51.9 L569.9 51.5 L570.9 51.2 L571.9 51.3 L572.9 51.3 L573.9 51.3 L574.9 51.4 L575.8 51.4 L576.8 51.2 L577.8 51.0 L578.8 50.9 L579.8 50.7 L580.8 50.6 L581.8 50.4 L582.8 50.2 M590.2 48.7 L591.2 48.6 L592.2 48.7 L593.2 48.7 L594.2 48.8 L595.2 48.8 L596.2 48.7 L597.2 48.5 L598.1 48.3 L599.1 48.2 L600.1 48.0 L601.1 47.8 L602.1 47.6 L603.0 47.3 L604.0 47.0 M611.6 45.7 L612.6 45.7 L613.6 45.6 L614.6 45.6 L615.6 45.6 L616.6 45.4 L617.6 45.3 L618.6 45.1 L619.6 45.0 L620.6 45.0 L621.6 44.9 L622.6 44.9 L623.6 44.8 L624.6 44.8 L625.4 44.8 M632.9 43.7 L633.9 43.6 L634.9 43.5 L635.9 43.4 L636.9 43.2 L637.9 43.1 L638.9 42.9 L639.8 42.7 L640.8 42.6 L641.8 42.4 L642.8 42.4 L643.8 42.3 L644.8 42.3 L645.8 42.3 L646.6 42.3 M654.2 40.7 L655.2 40.6 L656.2 40.4 L657.2 40.2 L658.2 40.0 L659.2 39.9 L660.2 39.7 L661.2 39.8 L662.2 39.9 L663.1 40.0 L664.1 40.1 L665.1 39.9 L666.1 39.8 L667.1 39.6 L667.9 39.4"/>
<path class="b" d="M83.5 462.0 L83.5 461.0 L83.5 460.0 L83.5 459.0 L83.5 458.0 L83.5 457.0 L83.5 456.0 L83.5 455.0 L83.5 454.0 L83.5 453.0 L83.5 452.4 M83.5 450.8 L83.5 449.8 L83.5 449.4 M83.5 447.8 L83.5 446.8 L83.5 445.8 L83.5 444.8 L83.5 443.8 L83.5 442.8 L83.5 441.8 L83.5 440.8 M83.5 439.2 L83.5 438.2 L83.5 437.8 M83.5 436.2 L83.5 435.2 L83.5 434.2 L83.5 433.2 L83.5 432.2 L83.5 431.2 L83.5 430.2 L83.5 429.2 M83.5 427.6 L83.5 426.6 L83.5 426.2 M83.5 424.6 L83.6 423.6 L83.6 422.6 L83.6 421.6 L83.6 420.6 L83.6 419.6 L83.6 418.6 L83.6 417.6 M83.6 416.2 L83.6 415.2 L83.6 414.6 M83.6 413.0 L83.6 412.0 L83.6 411.0 L83.6 410.0 L83.6 409.0 L83.6 408.0 L83.6 407.0 L83.7 406.0 M83.7 404.6 L83.7 403.6 L83.7 403.0 M83.7 401.4 L83.7 400.4 L83.7 399.4 L83.7 398.4 L83.7 397.4 L83.7 396.4 L83.7 395.4 L83.7 394.6 M83.8 393.0 L83.8 392.0 L83.8 391.4 M83.8 389.8 L83.8 388.8 L83.8 387.8 L83.8 386.8 L83.8 385.8 L83.8 384.8 L83.8 383.8 L83.9 383.0 M83.9 381.4 L83.9 380.4 L83.9 379.8 M83.9 378.4 L83.9 377.4 L83.9 376.4 L83.9 375.4 L83.9 374.4 L84.0 373.4 L84.0 372.4 L84.0 371.4 M84.0 369.8 L84.0 368.8 L84.0 368.4 M84.0 366.8 L84.0 365.8 L84.1 364.8 L84.1 363.8 L84.1 362.8 L84.1 361.8 L84.1 360.8 L84.1 359.8 M84.1 358.2 L84.2 357.2 L84.2 356.8 M84.2 355.2 L84.2 354.2 L84.2 353.2 L84.2 352.2 L84.2 351.2 L84.3 350.2 L84.3 349.2 L84.3 348.2 M84.3 346.6 L84.3 345.6 L84.3 345.2 M84.4 343.6 L84.4 342.6 L84.4 341.6 L84.4 340.6 L84.4 339.6 L84.4 338.6 L84.4 337.6 L84.5 336.6 M84.5 335.0 L84.5 334.0 L84.5 333.6 M84.5 332.0 L84.5 331.0 L84.6 330.0 L84.6 329.0 L84.6 328.0 L84.6 327.0 L84.6 326.0 L84.6 325.0 M84.7 323.4 L84.7 322.4 L84.7 322.0 M84.7 320.4 L84.7 319.4 L84.8 318.4 L84.8 317.4 L84.8 316.4 L84.8 315.4 L84.8 314.4 L84.8 313.4 M84.9 311.8 L84.9 310.8 L84.9 310.4 M84.9 308.8 L84.9 307.8 L85.0 306.8 L85.0 305.8 L85.0 304.8 L85.0 303.8 L85.0 302.8 L85.1 301.8 M85.1 300.4 L85.1 299.4 L85.1 298.8 M85.1 297.2 L85.2 296.2 L85.2 295.2 L85.2 294.2 L85.2 293.2 L85.2 292.2 L85.3 291.2 L85.3 290.2 M85.3 288.8 L85.3 287.8 L85.3 287.2 M85.4 285.6 L85.4 284.6 L85.4 283.6 L85.4 282.6 L85.4 281.6 L85.5 280.6 L85.5 279.6 L85.5 278.8 M85.5 277.2 L85.6 276.2 L85.6 275.6 M85.6 274.0 L85.6 273.0 L85.6 272.0 L85.7 271.0 L85.7 270.0 L85.7 269.0 L85.7 268.0 L85.7 267.2 M85.8 265.6 L85.8 264.6 L85.8 264.0 M85.8 262.6 L85.9 261.6 L85.9 260.6 L85.9 259.6 L85.9 258.6 L86.0 257.6 L86.0 256.6 L86.0 255.6 M86.1 254.0 L86.1 253.0 L86.1 252.4 M86.1 251.0 L86.2 250.0 L86.2 249.0 L86.2 248.0 L86.3 247.0 L86.3 246.0 L86.4 245.0 L86.4 244.0 M86.5 242.4 L86.5 241.4 L86.5 241.0 M86.6 239.4 L86.7 238.4 L86.7 237.4 L86.8 236.4 L86.9 235.4 L87.0 234.4 L87.1 233.5 L87.2 232.5 M87.4 230.9 L87.6 229.9 L87.6 229.5 M87.9 227.9 L88.0 226.9 L88.2 225.9 L88.3 224.9 L88.5 224.0 L88.7 223.0 L88.9 222.0 L89.0 221.0 M89.2 219.4 L89.4 218.4 L89.5 217.8 M89.8 216.3 L90.1 215.3 L90.3 214.3 L90.5 213.4 L90.7 212.4 L91.2 211.6 L91.5 210.6 L91.8 209.7 L92.1 209.2 M93.2 208.4 L93.6 207.5 L93.9 206.5 L94.0 206.3 M94.8 205.0 L95.3 205.9 L95.8 205.8 L96.3 204.9 L96.8 204.1 L97.3 203.2 L97.8 202.8 L98.3 203.7 L98.9 203.8 L99.4 202.9 L99.9 202.6 M101.1 201.0 L101.6 200.2 L102.2 199.3 M103.3 197.7 L104.2 198.0 L104.7 197.1 L105.2 196.2 L106.2 195.9 L107.1 196.1 L108.0 195.6 L108.7 194.9 L108.8 194.7 M110.0 193.4 L110.7 192.6 L111.1 192.0 M112.4 192.0 L113.3 191.5 L113.6 190.6 L114.0 189.6 L114.5 188.8 L115.2 188.1 L115.8 187.3 L116.6 186.9 L117.4 186.4 L117.7 186.2 M119.0 187.0 L119.6 186.7 L120.1 186.0 M120.9 183.6 L121.2 182.6 L121.7 182.6 L122.3 183.5 L122.8 182.8 L123.3 181.9 L123.8 181.1 L124.2 180.2 L124.7 179.3 L125.3 179.7 L126.0 179.9 L126.3 179.4 M127.5 178.6 L128.4 178.3 L128.9 178.0 M129.9 176.2 L130.7 176.8 L131.3 176.9 L131.8 176.0 L132.2 175.1 L132.8 174.3 L133.4 173.5 L133.9 172.6 L134.5 171.8 L134.9 172.5 L135.2 173.4 L135.5 174.4 L135.6 174.5 M136.3 172.2 L136.6 171.3 L137.3 170.8 L137.5 170.8 M138.9 170.2 L139.9 170.0 L140.3 169.2 L140.6 168.2 L141.0 167.3 L141.5 166.4 L142.0 165.6 L142.6 166.1 L143.1 167.0 L143.6 166.1 L144.0 165.3 L144.3 164.7 M145.8 164.9 L146.5 165.7 L147.1 165.6 L147.3 165.1 M148.7 163.1 L149.3 162.8 L149.7 161.9 L150.1 161.0 L150.6 161.8 L151.0 162.7 L151.5 163.6 L151.8 162.8 L152.1 161.8 L152.4 160.9 L152.8 159.9 L153.7 159.8 L154.0 159.6 M155.4 158.2 L156.1 157.5 L156.6 157.1 M158.0 157.5 L158.5 156.6 L159.1 155.8 L159.7 155.0 L160.4 154.3 L161.4 154.0 L162.3 153.6 L163.2 153.2 L163.9 152.9 M165.2 151.7 L165.8 150.9 L166.6 150.6 M167.8 150.8 L168.4 151.6 L168.8 150.7 L169.2 149.8 L169.7 149.1 L170.6 149.4 L171.3 148.9 L171.8 148.0 L172.3 147.2 L173.3 147.0 L173.5 147.0 M174.8 145.8 L175.5 145.1 L176.1 144.3 M177.4 143.5 L178.4 143.7 L179.4 143.8 L180.3 143.5 L181.2 143.1 L182.1 142.6 L182.9 142.1 L183.5 141.6 M184.9 140.1 L185.5 139.3 L186.2 139.0 M187.7 138.3 L188.5 137.7 L189.2 137.0 L190.0 136.4 L191.0 136.3 L192.0 136.1 L193.0 135.8 L193.7 135.5 M195.2 134.9 L196.0 134.4 L196.5 134.0 M197.9 132.9 L198.7 132.3 L199.5 131.7 L200.4 131.2 L201.3 131.0 L202.3 130.7 L203.2 130.4 L204.1 129.9 M205.6 129.0 L206.6 128.6 L206.9 128.4 M208.4 127.8 L209.3 127.3 L210.1 126.8 L211.0 126.2 L211.8 125.7 L212.7 125.3 L213.6 124.9 L214.6 124.5 M216.0 123.8 L216.8 123.2 L217.3 122.9 M218.7 122.1 L219.6 121.6 L220.5 121.2 L221.4 120.7 L222.3 120.3 L223.1 119.8 L224.0 119.3 L224.8 118.7 L225.0 118.6 M226.5 117.7 L227.3 117.1 L227.9 117.0 M229.3 116.7 L230.3 116.6 L231.3 116.4 L232.3 116.2 L233.2 115.9 L234.1 115.5 L235.0 115.1 L235.9 114.7 M237.4 113.9 L238.2 113.4 L238.9 113.0 M240.3 112.2 L241.3 112.0 L242.3 111.9 L243.2 111.7 L244.2 111.6 L245.2 111.4 L246.1 111.0 L247.0 110.6 M248.5 109.9 L249.4 109.5 L249.8 109.4 M251.3 108.8 L252.2 108.4 L253.2 108.1 L254.1 107.8 L255.0 107.4 L255.9 106.9 L256.7 106.4 L257.6 105.8 L257.7 105.7 M259.3 104.8 L260.2 104.5 L260.6 104.3 M262.1 103.7 L263.0 103.3 L263.9 103.0 L264.9 102.6 L265.8 102.3 L266.8 102.0 L267.7 101.7 L268.7 101.4 L268.9 101.4 M270.4 100.9 L271.4 100.6 L271.8 100.5 M273.3 100.0 L274.2 99.7 L275.2 99.4 L276.2 99.1 L277.1 98.9 L278.1 98.6 L279.0 98.3 L279.9 97.8 M281.4 96.8 L282.2 96.3 L282.7 96.0 M284.4 95.2 L285.3 95.0 L286.3 94.7 L287.3 94.5 L288.2 94.2 L289.1 93.7 L290.0 93.2 L290.8 92.7 M292.4 91.8 L293.4 91.7 L294.0 91.6 M295.4 91.4 L296.4 91.2 L297.3 91.1 L298.3 90.9 L299.3 90.7 L300.3 90.5 L301.3 90.3 L302.2 90.1 M304.0 89.5 L304.9 89.2 L305.5 89.0 M307.0 88.5 L308.0 88.3 L309.0 88.2 L309.9 88.0 L310.9 87.9 L311.9 87.7 L312.9 87.5 L313.7 87.0 M315.2 86.3 L316.1 85.8 L316.6 85.5 M318.3 84.8 L319.2 84.4 L320.1 84.1 L321.0 83.7 L322.0 83.3 L322.9 83.0 L323.9 82.7 L324.8 82.4 L325.0 82.3 M326.6 82.0 L327.5 81.9 L327.9 81.8 M329.5 81.5 L330.5 81.4 L331.5 81.3 L332.5 81.2 L333.5 81.1 L334.3 80.6 L335.2 80.1 L336.0 79.5 L336.4 79.3 M337.9 78.4 L338.9 78.1 L339.5 78.0 M341.0 77.6 L342.0 77.4 L343.0 77.1 L343.9 76.9 L344.9 76.7 L345.9 76.6 L346.9 76.4 L347.9 76.2 M349.4 75.9 L350.4 75.6 L351.0 75.5 M352.5 75.0 L353.5 74.7 L354.4 74.5 L355.4 74.4 L356.4 74.3 L357.4 74.2 L358.4 74.0 L359.3 73.7 L359.5 73.6 M361.0 73.0 L361.9 72.6 L362.5 72.4 M364.0 72.0 L365.0 71.8 L366.0 71.6 L367.0 71.4 L367.9 71.2 L368.9 71.0 L369.9 70.7 L370.9 70.5 L371.1 70.4 M372.6 70.1 L373.6 69.8 L374.2 69.7 M375.7 69.4 L376.7 69.2 L377.7 68.9 L378.7 68.8 L379.7 68.7 L380.7 68.6 L381.7 68.4 L382.6 68.3 M384.3 67.8 L385.2 67.3 L385.8 67.1 M387.2 66.4 L388.1 65.9 L389.0 65.5 L390.0 65.2 L391.0 65.0 L391.9 64.7 L392.9 64.5 L393.8 64.2 L394.2 64.1 M395.8 63.8 L396.8 63.6 L397.4 63.4 M398.9 63.1 L399.9 62.9 L400.9 62.8 L401.9 62.7 L402.9 62.7 L403.9 62.6 L404.9 62.5 L405.9 62.4 L406.1 62.3 M407.7 62.1 L408.6 61.9 L409.2 61.8 M410.8 61.6 L411.8 61.4 L412.8 61.2 L413.8 61.0 L414.7 60.8 L415.7 60.6 L416.7 60.3 L417.7 60.1 L417.9 60.1 M419.4 59.7 L420.4 59.5 L421.0 59.3 M422.5 58.8 L423.4 58.4 L424.3 58.0 L425.2 57.6 L426.2 57.3 L427.2 57.2 L428.2 57.1 L429.1 57.1 L429.5 57.0 M431.1 56.9 L432.1 56.8 L432.7 56.8 M434.3 56.6 L435.3 56.5 L436.3 56.4 L437.3 56.1 L438.2 55.8 L439.1 55.4 L440.1 55.1 L441.0 54.7 L441.4 54.6 M443.0 54.3 L444.0 54.2 L444.6 54.1 M446.1 54.0 L447.1 53.8 L448.1 53.7 L449.1 53.5 L450.1 53.3 L451.1 53.1 L452.1 53.0 L453.1 52.9 L453.3 52.9 M454.8 52.7 L455.8 52.6 L456.4 52.5 M458.0 52.3 L459.0 52.0 L459.9 51.7 L460.9 51.3 L461.8 51.0 L462.8 50.7 L463.7 50.5 L464.7 50.2 L465.1 50.1 M466.6 49.7 L467.6 49.5 L468.2 49.4 M469.8 49.3 L470.8 49.3 L471.8 49.3 L472.8 49.2 L473.8 49.1 L474.8 48.9 L475.7 48.7 L476.7 48.6 L477.1 48.5 M478.7 48.4 L479.7 48.4 L480.1 48.3 M481.7 48.2 L482.7 48.1 L483.6 47.8 L484.6 47.5 L485.5 47.1 L486.5 46.8 L487.4 46.6 L488.4 46.5 L489.0 46.4 M490.6 46.2 L491.6 46.1 L492.2 46.0 M493.8 45.6 L494.8 45.4 L495.7 45.2 L496.7 45.1 L497.7 44.9 L498.7 44.7 L499.7 44.6 L500.7 44.4 L501.1 44.4 M502.6 44.3 L503.6 44.5 L504.0 44.5 M505.8 44.8 L506.7 44.7 L507.6 44.2 L508.4 43.6 L509.3 43.1 L510.1 42.6 L511.0 42.0 L511.8 41.5 L512.8 41.7 L513.0 41.8 M514.5 42.1 L515.5 42.4 L516.1 42.5 M517.6 42.1 L518.6 41.8 L519.5 41.5 L520.5 41.2 L521.4 40.9 L522.4 40.9 L523.4 40.8 L524.4 40.8 L524.8 40.7 M526.6 40.6 L527.6 40.2 L528.1 40.0 M529.6 39.5 L530.6 39.2 L531.6 39.1 L532.6 39.2 L533.6 39.2 L534.6 39.2 L535.6 39.3 L536.5 39.1 L536.9 39.0 M538.7 38.5 L539.6 38.2 L540.2 38.1 M541.8 38.1 L542.8 38.1 L543.8 38.1 L544.8 38.1 L545.8 38.1 L546.8 38.0 L547.8 37.9 L548.8 37.9 L549.0 37.9 M550.6 37.7 L551.5 37.3 L552.2 37.0 M553.8 36.2 L554.7 35.8 L555.7 35.5 L556.7 35.3 L557.7 35.1 L558.6 35.0 L559.6 34.8 L560.6 35.1 L561.2 35.2 M562.8 35.5 L563.7 35.7 L564.5 35.8 M566.1 35.8 L567.1 35.8 L568.1 35.7 L569.0 35.4 L570.0 35.0 L570.9 34.6 L571.8 34.3 L572.8 33.9 L573.7 33.5 L574.2 33.3 M576.1 32.4 L577.0 32.0 L577.9 31.6 M579.8 31.3 L580.8 31.2 L581.8 31.1 L582.8 31.1 L583.8 31.0 L584.8 31.2 L585.7 31.6 L586.6 32.0 L587.6 32.3 L588.5 32.6 L589.5 32.6 L589.7 32.6 M591.9 32.7 L592.9 32.7 L593.8 32.3 L594.4 32.0 M596.6 31.1 L597.5 30.7 L598.4 30.3 L599.3 29.9 L600.3 29.6 L601.2 29.2 L602.2 28.8 L603.1 28.5 L604.0 28.4 L605.0 28.7 L605.9 29.1 L606.8 29.5 L607.7 29.8 L608.5 30.1 M611.2 28.5 L612.0 27.9 L612.8 27.4 L613.7 26.9 L613.9 27.0 M616.3 27.0 L617.3 27.0 L618.3 27.0 L619.3 26.9 L620.3 26.8 L621.3 26.7 L622.3 26.6 L623.3 26.4 L624.3 26.3 L625.2 26.2 L626.2 26.1 L627.2 25.9 L628.2 25.8 L628.6 25.9 M631.2 26.2 L632.2 26.4 L633.2 26.4 L634.0 25.9 M636.5 24.6 L637.5 24.4 L638.4 24.6 L639.4 24.7 L640.4 24.9 L641.4 25.0 L642.4 25.1 L643.4 25.2 L644.4 25.3 L645.4 25.4 L646.4 25.4 L647.4 25.3 L648.4 25.2 L649.2 25.1 M651.8 24.9 L652.7 24.8 L653.7 24.8 L654.5 24.7 M657.1 23.5 L657.9 23.0 L658.8 22.6 L659.7 22.2 L660.7 21.8 L661.6 21.4 L662.5 21.1 L663.5 20.7 L664.4 20.4 L665.3 20.1 L666.3 20.5 L667.2 20.8 L668.2 21.1 L669.1 21.5 L669.5 21.6"/>
<path class="b" d="M83.5 462.0 L83.5 461.0 L83.5 460.0 L83.5 459.0 L83.5 458.0 L83.5 457.0 L83.5 456.0 L83.5 455.0 L83.5 454.8 M83.5 453.0 L83.5 452.0 L83.5 451.4 M83.5 450.0 L83.5 449.0 L83.5 448.0 L83.5 447.0 L83.5 446.0 L83.5 445.0 L83.5 444.0 L83.5 443.0 M83.5 441.4 L83.5 440.4 L83.5 439.8 M83.5 438.4 L83.6 437.4 L83.6 436.4 L83.6 435.4 L83.6 434.4 L83.6 433.4 L83.6 432.4 L83.6 431.4 M83.6 429.8 L83.6 428.8 L83.6 428.4 M83.6 426.8 L83.6 425.8 L83.6 424.8 L83.6 423.8 L83.6 422.8 L83.6 421.8 L83.6 420.8 L83.7 419.8 M83.7 418.2 L83.7 417.2 L83.7 416.8 M83.7 415.2 L83.7 414.2 L83.7 413.2 L83.7 412.2 L83.7 411.2 L83.7 410.2 L83.7 409.2 L83.7 408.2 M83.8 406.6 L83.8 405.6 L83.8 405.2 M83.8 403.6 L83.8 402.6 L83.8 401.6 L83.8 400.6 L83.8 399.6 L83.8 398.6 L83.8 397.6 L83.9 396.6 M83.9 395.0 L83.9 394.0 L83.9 393.6 M83.9 392.0 L83.9 391.0 L83.9 390.0 L83.9 389.0 L84.0 388.0 L84.0 387.0 L84.0 386.0 L84.0 385.0 M84.0 383.4 L84.0 382.4 L84.0 382.0 M84.0 380.4 L84.1 379.4 L84.1 378.4 L84.1 377.4 L84.1 376.4 L84.1 375.4 L84.1 374.4 L84.1 373.4 M84.2 372.0 L84.2 371.0 L84.2 370.4 M84.2 368.8 L84.2 367.8 L84.2 366.8 L84.2 365.8 L84.3 364.8 L84.3 363.8 L84.3 362.8 L84.3 361.8 M84.3 360.4 L84.3 359.4 L84.3 358.8 M84.4 357.2 L84.4 356.2 L84.4 355.2 L84.4 354.2 L84.4 353.2 L84.4 352.2 L84.5 351.2 L84.5 350.4 M84.5 348.8 L84.5 347.8 L84.5 347.2 M84.6 345.6 L84.6 344.6 L84.6 343.6 L84.6 342.6 L84.6 341.6 L84.6 340.6 L84.7 339.6 L84.7 338.8 M84.7 337.2 L84.7 336.2 L84.7 335.6 M84.8 334.2 L84.8 333.2 L84.8 332.2 L84.8 331.2 L84.8 330.2 L84.8 329.2 L84.9 328.2 L84.9 327.2 M84.9 325.6 L84.9 324.6 L84.9 324.2 M85.0 322.6 L85.0 321.6 L85.0 320.6 L85.0 319.6 L85.0 318.6 L85.1 317.6 L85.1 316.6 L85.1 315.6 M85.1 314.0 L85.2 313.0 L85.2 312.6 M85.2 311.0 L85.2 310.0 L85.2 309.0 L85.3 308.0 L85.3 307.0 L85.3 306.0 L85.3 305.0 L85.3 304.0 M85.4 302.4 L85.4 301.4 L85.4 301.0 M85.4 299.4 L85.4 298.4 L85.5 297.4 L85.5 296.4 L85.5 295.4 L85.5 294.4 L85.6 293.4 L85.6 292.4 M85.6 290.8 L85.6 289.8 L85.6 289.4 M85.7 287.8 L85.7 286.8 L85.7 285.8 L85.7 284.8 L85.8 283.8 L85.8 282.8 L85.8 281.8 L85.8 280.8 M85.9 279.2 L85.9 278.2 L85.9 277.8 M85.9 276.2 L86.0 275.2 L86.0 274.2 L86.0 273.2 L86.0 272.2 L86.0 271.2 L86.1 270.2 L86.1 269.2 M86.1 267.6 L86.1 266.6 L86.2 266.2 M86.2 264.6 L86.2 263.6 L86.2 262.6 L86.3 261.6 L86.3 260.6 L86.3 259.6 L86.3 258.6 L86.4 257.6 M86.4 256.2 L86.4 255.2 L86.4 254.6 M86.5 253.0 L86.5 252.0 L86.5 251.0 L86.6 250.0 L86.6 249.0 L86.6 248.0 L86.7 247.0 L86.7 246.2 M86.8 244.6 L86.8 243.6 L86.8 243.0 M86.9 241.4 L87.0 240.4 L87.0 239.4 L87.1 238.4 L87.1 237.4 L87.2 236.4 L87.3 235.4 L87.4 234.6 M87.5 233.1 L87.6 232.1 L87.7 231.5 M88.0 229.9 L88.1 228.9 L88.3 227.9 L88.5 226.9 L88.6 225.9 L88.8 225.0 L89.0 224.0 L89.1 223.2 M89.3 221.6 L89.4 220.6 L89.6 220.0 M89.9 218.5 L90.1 217.5 L90.4 216.5 L90.5 215.5 L90.7 214.6 L91.0 213.6 L91.3 212.7 L91.7 211.7 L92.1 211.4 M93.0 209.9 L93.9 210.0 L94.1 209.9 M95.2 208.2 L95.4 207.2 L95.7 206.2 L96.2 205.4 L96.9 205.4 L97.3 206.3 L97.7 207.2 L98.2 207.1 L98.7 206.2 L99.1 205.3 L99.4 204.3 L99.7 203.5 L99.8 203.6 M101.1 202.6 L101.7 202.9 L102.3 203.5 L102.4 203.3 M103.1 201.0 L103.7 200.4 L104.7 200.4 L105.5 200.2 L106.1 199.4 L107.0 199.2 L107.7 198.7 L108.3 197.9 L108.7 197.0 L108.8 196.6 M109.9 195.1 L110.5 195.6 L110.8 194.6 L111.0 194.1 M112.2 195.1 L112.9 194.9 L113.6 194.2 L114.2 193.4 L115.1 193.3 L115.8 192.8 L116.2 191.9 L116.7 191.0 L117.6 190.8 L117.9 190.5 M119.0 189.1 L119.8 188.5 L120.1 188.2 M121.3 186.9 L121.9 186.6 L122.6 186.9 L122.9 185.9 L123.2 185.0 L123.4 184.0 L123.8 183.1 L124.5 182.4 L125.3 182.1 L126.0 182.6 L126.1 182.8 M127.1 182.2 L127.5 181.3 L128.0 180.5 L128.2 180.3 M129.5 179.1 L130.3 178.8 L131.1 179.0 L131.7 178.2 L132.5 178.2 L133.1 177.8 L133.6 176.9 L134.0 176.1 L135.0 176.3 L135.4 175.8 M136.6 174.0 L137.5 174.4 L137.9 174.8 M138.9 174.7 L139.2 173.7 L139.4 172.7 L139.8 171.9 L140.7 171.5 L141.7 171.6 L142.1 170.7 L142.5 169.7 L143.0 169.0 L143.9 168.6 L144.3 168.4 M145.6 167.8 L146.3 167.3 L146.7 166.6 M147.9 166.5 L148.5 167.1 L149.0 166.2 L149.6 165.4 L150.3 164.8 L151.1 164.2 L151.9 163.5 L152.6 162.9 L153.5 162.4 L153.8 162.1 M154.8 159.7 L155.2 160.6 L155.7 161.5 L155.9 161.8 M157.0 159.7 L157.6 159.4 L158.5 159.8 L159.0 159.0 L159.7 158.2 L160.5 157.6 L161.4 157.3 L162.4 157.1 L163.2 157.1 M164.4 155.8 L164.9 155.0 L165.6 154.2 M167.0 153.9 L167.5 153.2 L167.9 152.3 L168.3 151.3 L168.8 150.7 L169.7 151.2 L170.6 150.7 L171.4 150.2 L172.4 150.0 L172.6 149.7 M174.0 148.6 L174.9 149.1 L175.3 149.2 M176.6 147.7 L177.4 147.1 L178.3 146.8 L179.2 146.3 L180.0 145.8 L180.9 145.2 L181.7 144.7 L182.5 144.1 L182.9 143.9 M184.2 143.0 L185.0 142.5 L185.4 142.5 M187.0 142.6 L187.8 142.1 L188.6 141.5 L189.5 141.0 L190.5 140.7 L191.4 140.3 L192.1 139.7 L192.8 138.9 L193.1 138.6 M194.3 137.7 L195.2 137.3 L195.6 137.1 M197.1 136.4 L197.9 136.0 L198.8 135.5 L199.7 135.0 L200.5 134.5 L201.3 133.9 L202.2 133.3 L203.1 132.9 M204.4 132.4 L205.2 131.8 L205.7 131.5 M207.1 130.4 L207.9 129.8 L208.7 129.2 L209.7 128.9 L210.6 128.5 L211.5 128.1 L212.4 127.7 L213.4 127.3 M214.8 126.7 L215.7 126.2 L216.1 126.0 M217.5 125.3 L218.4 124.8 L219.3 124.6 L220.3 124.3 L221.3 124.1 L222.3 123.8 L223.2 123.4 L224.1 123.0 M225.5 122.3 L226.4 121.9 L226.8 121.7 M228.2 121.1 L229.2 120.7 L230.1 120.3 L231.0 119.8 L231.9 119.4 L232.8 118.9 L233.7 118.5 L234.5 118.0 L234.7 117.9 M236.2 117.3 L237.1 117.0 L237.5 116.8 M239.0 116.4 L240.0 116.1 L240.9 115.8 L241.9 115.4 L242.8 115.0 L243.7 114.6 L244.6 114.2 L245.5 113.8 M247.0 113.2 L247.9 112.8 L248.3 112.6 M249.7 111.9 L250.6 111.5 L251.5 111.0 L252.4 110.6 L253.3 110.1 L254.2 109.7 L255.1 109.4 L256.1 109.2 L256.3 109.1 M257.7 108.8 L258.7 108.6 L259.1 108.5 M260.5 108.0 L261.3 107.4 L262.2 106.8 L263.0 106.3 L263.8 105.7 L264.6 105.1 L265.6 104.7 L266.5 104.3 L267.0 104.1 M268.5 103.5 L269.4 103.2 L269.8 103.0 M271.3 102.5 L272.3 102.2 L273.3 102.0 L274.3 101.9 L275.3 101.9 L276.3 101.8 L277.2 101.7 L278.0 101.3 M279.6 100.6 L280.5 100.2 L280.9 100.0 M282.5 99.2 L283.4 98.8 L284.3 98.4 L285.2 98.0 L286.2 97.6 L287.1 97.2 L287.9 96.7 L288.8 96.3 L289.0 96.2 M290.5 95.5 L291.4 95.0 L291.9 94.9 M293.3 94.7 L294.3 94.6 L295.3 94.4 L296.3 94.3 L297.3 94.1 L298.2 93.7 L299.1 93.3 L300.0 92.9 M301.7 92.2 L302.6 91.8 L303.1 91.6 M304.6 91.0 L305.5 90.6 L306.5 90.2 L307.5 90.3 L308.5 90.4 L309.4 90.5 L310.4 90.6 L311.4 90.2 M313.0 89.4 L313.9 89.0 L314.5 88.8 M316.0 88.6 L317.0 88.4 L318.0 88.2 L319.0 88.0 L320.0 87.8 L320.9 87.4 L321.8 86.9 L322.7 86.5 M324.3 85.9 L325.3 85.7 L325.7 85.6 M327.3 85.2 L328.2 85.0 L329.2 84.7 L330.1 84.3 L331.0 83.9 L332.0 83.5 L332.9 83.1 L333.8 82.8 L334.0 82.8 M335.6 82.6 L336.6 82.5 L337.0 82.4 M338.5 82.1 L339.5 81.7 L340.4 81.3 L341.3 81.0 L342.3 80.6 L343.3 80.4 L344.2 80.3 L345.2 80.1 L345.4 80.1 M347.0 79.8 L347.9 79.5 L348.3 79.4 M349.9 78.9 L350.8 78.6 L351.7 78.2 L352.7 77.9 L353.6 77.5 L354.5 77.1 L355.4 76.8 L356.4 76.6 L356.8 76.6 M358.4 76.4 L359.4 76.2 L359.8 76.2 M361.4 75.8 L362.3 75.6 L363.3 75.4 L364.3 75.1 L365.2 74.8 L366.2 74.5 L367.1 74.1 L368.1 73.8 L368.2 73.7 M369.8 73.5 L370.8 73.3 L371.4 73.2 M373.0 72.9 L374.0 72.8 L375.0 72.7 L375.9 72.5 L376.9 72.4 L377.9 72.2 L378.9 72.0 L379.9 71.8 M381.5 71.5 L382.4 71.3 L382.8 71.2 M384.4 70.8 L385.3 70.5 L386.3 70.1 L387.2 69.8 L388.1 69.5 L389.1 69.2 L390.0 68.7 L390.9 68.3 L391.2 68.1 M392.8 67.3 L393.8 67.0 L394.4 67.1 M395.9 67.2 L396.9 67.3 L397.9 67.5 L398.9 67.4 L399.9 67.3 L400.9 67.2 L401.9 67.0 L402.9 66.9 M404.4 66.6 L405.4 66.2 L406.1 65.8 M407.5 65.1 L408.4 64.7 L409.4 64.5 L410.4 64.2 L411.3 64.0 L412.3 63.7 L413.3 63.4 L414.2 63.2 L414.4 63.2 M416.0 63.1 L417.0 63.1 L417.6 63.1 M419.2 62.8 L420.2 62.6 L421.2 62.3 L422.1 62.1 L423.1 62.0 L424.1 61.8 L425.1 61.7 L426.1 61.6 L426.3 61.6 M427.9 61.3 L428.8 60.9 L429.4 60.7 M430.9 60.2 L431.8 59.9 L432.8 59.6 L433.8 59.6 L434.8 59.6 L435.8 59.6 L436.8 59.6 L437.8 59.7 L438.0 59.7 M439.5 59.4 L440.5 59.1 L441.1 59.0 M442.6 58.5 L443.6 58.3 L444.5 57.9 L445.4 57.6 L446.4 57.2 L447.3 56.9 L448.3 56.5 L449.2 56.2 L449.6 56.2 M451.2 56.2 L452.2 56.2 L452.6 56.2 M454.2 56.2 L455.2 56.1 L456.1 55.8 L457.1 55.6 L458.1 55.3 L459.0 55.0 L460.0 54.7 L461.0 54.5 L461.4 54.5 M463.0 54.4 L463.9 54.3 L464.5 54.2 M466.1 53.9 L467.1 53.7 L468.1 53.5 L469.0 53.3 L470.0 53.1 L471.0 52.9 L472.0 52.7 L473.0 52.5 L473.2 52.4 M474.7 52.1 L475.7 52.0 L476.3 51.9 M477.9 51.7 L478.9 51.5 L479.9 51.3 L480.8 51.0 L481.8 50.8 L482.8 50.5 L483.7 50.3 L484.7 50.1 L484.9 50.1 M486.5 49.8 L487.5 49.6 L488.0 49.4 M489.6 49.2 L490.6 49.1 L491.6 49.0 L492.6 48.9 L493.6 48.7 L494.6 48.6 L495.6 48.4 L496.6 48.2 L496.8 48.2 M498.3 48.0 L499.3 47.9 L499.9 47.8 M501.5 47.6 L502.5 47.5 L503.5 47.4 L504.5 47.3 L505.5 47.1 L506.5 46.9 L507.4 46.7 L508.4 46.6 L508.6 46.5 M510.2 46.1 L511.1 45.8 L511.7 45.6 M513.2 45.1 L514.1 44.8 L515.1 44.6 L516.1 44.7 L517.1 44.8 L518.1 44.8 L519.1 44.9 L520.1 45.0 L520.5 45.0 M522.0 44.6 L523.0 44.3 L523.6 44.2 M525.1 43.8 L526.1 43.8 L527.1 43.7 L528.1 43.7 L529.1 43.6 L530.1 43.5 L531.1 43.4 L532.1 43.2 L532.3 43.2 M534.1 42.9 L535.1 42.7 L535.5 42.6 M537.2 42.3 L538.2 42.1 L539.2 41.9 L540.2 41.7 L541.2 41.6 L542.2 41.5 L543.1 41.4 L544.1 41.2 L544.3 41.2 M545.9 40.9 L546.9 40.6 L547.4 40.4 M549.1 39.9 L550.1 39.5 L551.0 39.2 L552.0 39.3 L553.0 39.5 L553.9 39.8 L554.9 40.0 L555.9 40.1 L556.3 40.1 M557.9 39.9 L558.9 39.9 L559.5 39.8 M561.0 39.4 L562.0 39.2 L563.0 38.9 L563.9 38.7 L564.9 38.4 L565.9 38.1 L566.8 37.9 L567.8 37.6 L568.6 37.4 M570.3 36.9 L571.3 36.9 L572.1 36.9 M573.9 36.9 L574.9 36.9 L575.9 36.9 L576.9 36.7 L577.8 36.4 L578.8 36.1 L579.7 35.8 L580.7 35.5 L581.7 35.7 L582.7 35.8 M584.8 36.2 L585.8 36.3 L586.8 36.2 L587.0 36.1 M588.9 35.1 L589.8 34.7 L590.7 34.2 L591.6 33.9 L592.6 33.6 L593.6 33.4 L594.5 33.1 L595.5 32.8 L596.5 32.6 L597.5 32.5 L598.4 32.4 L599.4 32.3 L599.6 32.3 M602.2 32.1 L603.2 32.0 L604.2 31.9 L604.8 31.8 M607.4 31.5 L608.4 31.6 L609.4 31.8 L610.4 31.9 L611.4 32.1 L612.3 32.3 L613.3 32.1 L614.3 31.9 L615.2 31.6 L616.2 31.3 L617.2 31.1 L618.1 30.9 L619.1 30.8 L619.3 30.8 M621.9 30.6 L622.9 30.5 L623.9 30.4 L624.7 30.2 M627.2 29.5 L628.2 29.3 L629.1 29.4 L630.1 29.7 L631.1 29.9 L632.1 30.1 L633.0 30.4 L633.9 30.0 L634.9 29.6 L635.8 29.2 L636.7 28.8 L637.6 28.5 L638.6 28.4 L639.4 28.3 M642.0 28.3 L643.0 28.4 L644.0 28.5 L644.6 28.6 M647.2 28.9 L648.1 28.6 L649.0 28.2 L650.0 27.9 L650.9 27.5 L651.8 27.2 L652.8 26.8 L653.7 26.5 L654.7 26.2 L655.6 25.9 L656.6 25.6 L657.6 25.5 L658.6 25.5 L659.4 25.4 M662.0 25.5 L663.0 25.6 L663.9 25.8 L664.7 25.9 M667.4 25.9 L668.4 25.6 L669.3 25.2 L669.9 25.0"/>
<path class="b" d="M83.5 462.0 L83.5 461.0 L83.5 460.0 L83.5 459.0 L83.5 458.0 M83.5 456.0 L83.5 455.0 L83.5 454.2 M83.5 452.6 L83.5 451.6 L83.5 450.6 L83.5 449.6 L83.5 448.6 L83.5 447.6 L83.6 446.6 L83.6 445.6 M83.6 444.0 L83.6 443.0 L83.6 442.6 M83.6 441.0 L83.6 440.0 L83.6 439.0 L83.6 438.0 L83.6 437.0 L83.6 436.0 L83.6 435.0 L83.6 434.0 M83.6 432.4 L83.6 431.4 L83.6 431.0 M83.7 429.4 L83.7 428.4 L83.7 427.4 L83.7 426.4 L83.7 425.4 L83.7 424.4 L83.7 423.4 L83.7 422.4 M83.7 420.8 L83.7 419.8 L83.7 419.4 M83.8 417.8 L83.8 416.8 L83.8 415.8 L83.8 414.8 L83.8 413.8 L83.8 412.8 L83.8 411.8 L83.8 410.8 M83.8 409.2 L83.9 408.2 L83.9 407.8 M83.9 406.2 L83.9 405.2 L83.9 404.2 L83.9 403.2 L83.9 402.2 L83.9 401.2 L83.9 400.2 L84.0 399.2 M84.0 397.6 L84.0 396.6 L84.0 396.2 M84.0 394.6 L84.0 393.6 L84.0 392.6 L84.1 391.6 L84.1 390.6 L84.1 389.6 L84.1 388.6 L84.1 387.6 M84.1 386.0 L84.1 385.0 L84.1 384.6 M84.2 383.0 L84.2 382.0 L84.2 381.0 L84.2 380.0 L84.2 379.0 L84.2 378.0 L84.3 377.0 L84.3 376.0 M84.3 374.6 L84.3 373.6 L84.3 373.0 M84.3 371.4 L84.4 370.4 L84.4 369.4 L84.4 368.4 L84.4 367.4 L84.4 366.4 L84.4 365.4 L84.5 364.6 M84.5 363.0 L84.5 362.0 L84.5 361.4 M84.5 359.8 L84.6 358.8 L84.6 357.8 L84.6 356.8 L84.6 355.8 L84.6 354.8 L84.6 353.8 L84.7 353.0 M84.7 351.4 L84.7 350.4 L84.7 349.8 M84.7 348.2 L84.8 347.2 L84.8 346.2 L84.8 345.2 L84.8 344.2 L84.8 343.2 L84.9 342.2 L84.9 341.4 M84.9 339.8 L84.9 338.8 L84.9 338.2 M85.0 336.8 L85.0 335.8 L85.0 334.8 L85.0 333.8 L85.0 332.8 L85.1 331.8 L85.1 330.8 L85.1 329.8 M85.1 328.2 L85.2 327.2 L85.2 326.6 M85.2 325.2 L85.2 324.2 L85.2 323.2 L85.3 322.2 L85.3 321.2 L85.3 320.2 L85.3 319.2 L85.3 318.2 M85.4 316.6 L85.4 315.6 L85.4 315.2 M85.4 313.6 L85.5 312.6 L85.5 311.6 L85.5 310.6 L85.5 309.6 L85.5 308.6 L85.6 307.6 L85.6 306.6 M85.6 305.0 L85.7 304.0 L85.7 303.6 M85.7 302.0 L85.7 301.0 L85.7 300.0 L85.8 299.0 L85.8 298.0 L85.8 297.0 L85.8 296.0 L85.9 295.0 M85.9 293.4 L85.9 292.4 L85.9 292.0 M86.0 290.4 L86.0 289.4 L86.0 288.4 L86.0 287.4 L86.1 286.4 L86.1 285.4 L86.1 284.4 L86.1 283.4 M86.2 281.8 L86.2 280.8 L86.2 280.4 M86.2 278.8 L86.3 277.8 L86.3 276.8 L86.3 275.8 L86.3 274.8 L86.4 273.8 L86.4 272.8 L86.4 271.8 M86.4 270.2 L86.5 269.2 L86.5 268.8 M86.5 267.2 L86.5 266.2 L86.6 265.2 L86.6 264.2 L86.6 263.2 L86.6 262.2 L86.7 261.2 L86.7 260.2 M86.7 258.6 L86.8 257.6 L86.8 257.2 M86.8 255.6 L86.8 254.6 L86.9 253.6 L86.9 252.6 L86.9 251.6 L87.0 250.6 L87.0 249.6 L87.0 248.6 M87.1 247.0 L87.1 246.0 L87.1 245.6 M87.2 244.0 L87.2 243.0 L87.3 242.0 L87.3 241.0 L87.4 240.0 L87.4 239.0 L87.5 238.0 L87.6 237.0 M87.7 235.5 L87.8 234.5 L87.8 234.1 M88.0 232.5 L88.1 231.5 L88.3 230.5 L88.4 229.5 L88.6 228.5 L88.7 227.5 L88.9 226.5 L89.1 225.6 M89.4 224.0 L89.6 223.0 L89.6 222.6 M89.9 221.0 L90.1 220.0 L90.3 219.1 L90.4 218.1 L90.7 217.1 L91.0 216.2 L91.2 215.2 L91.5 214.3 L92.2 213.7 L92.3 213.5 M93.2 212.3 L93.9 211.7 L94.3 211.1 M95.6 211.4 L96.3 212.0 L96.7 211.7 L97.0 210.7 L97.2 209.8 L97.4 208.8 L98.1 208.9 L98.8 208.9 L99.1 208.0 L99.5 207.0 L100.2 207.1 L100.4 207.1 M101.5 205.5 L102.3 205.3 L102.7 204.3 L102.7 204.2 M103.7 202.2 L104.2 201.9 L104.6 202.8 L105.1 203.4 L105.7 202.6 L106.5 202.4 L107.1 202.1 L107.5 201.1 L108.1 200.3 L108.6 199.5 L109.0 198.8 M110.4 196.9 L111.2 197.2 L111.7 197.1 M112.6 195.1 L113.2 195.9 L113.8 196.6 L114.6 196.0 L115.1 195.2 L115.6 194.4 L116.5 194.0 L117.1 193.3 L117.5 192.4 L118.0 191.5 L118.3 191.0 M119.5 192.5 L119.9 191.9 L120.2 191.0 L120.4 190.2 M121.4 189.7 L122.0 189.3 L122.4 188.4 L122.8 187.4 L123.4 187.0 L124.3 187.1 L125.0 186.6 L125.3 185.6 L125.6 184.6 L126.0 183.7 L126.1 183.6 M127.6 183.1 L128.5 182.8 L128.9 182.7 M130.1 182.0 L130.7 181.2 L131.3 180.4 L132.1 179.8 L132.8 179.1 L133.5 178.5 L134.3 177.9 L135.2 178.0 L135.7 178.0 M136.8 176.4 L137.5 175.6 L138.0 175.1 M139.4 174.2 L140.2 173.7 L140.8 172.9 L141.5 172.6 L142.4 173.1 L143.2 172.6 L143.8 171.9 L144.2 170.9 L144.7 170.1 L144.9 170.1 M146.4 169.6 L147.3 169.6 L147.8 169.6 M149.0 167.6 L149.9 167.2 L150.6 166.5 L151.3 165.8 L152.1 165.2 L153.0 164.8 L153.7 164.9 L154.1 165.8 L154.5 166.7 L154.9 166.6 M156.0 164.2 L156.6 163.5 L157.4 162.8 M158.8 161.2 L159.2 160.3 L160.0 159.7 L160.9 159.5 L161.9 159.8 L162.6 159.6 L163.3 158.8 L164.2 158.6 L164.7 158.6 M165.9 157.1 L166.9 156.8 L167.2 156.6 M168.7 155.6 L169.6 155.2 L170.4 154.6 L171.3 154.4 L172.0 153.8 L172.6 152.9 L173.2 152.2 L174.1 151.8 L174.5 151.6 M175.9 150.5 L176.8 150.1 L177.2 150.0 M178.5 149.5 L179.4 149.2 L180.2 148.6 L181.0 147.9 L181.5 147.1 L182.1 146.3 L182.7 145.6 L183.7 145.4 L184.5 145.3 M186.0 144.6 L186.9 144.2 L187.2 144.0 M188.7 143.3 L189.5 142.8 L190.4 142.3 L191.2 141.8 L192.1 141.3 L193.0 140.8 L193.9 140.4 L194.8 140.0 L195.0 139.9 M196.5 139.5 L197.5 139.3 L197.9 139.1 M199.2 138.3 L200.1 137.8 L201.0 137.5 L202.0 137.2 L202.8 136.7 L203.5 135.9 L204.2 135.2 L204.8 134.5 L205.4 133.9 M206.7 133.1 L207.7 132.8 L208.0 132.6 M209.5 131.9 L210.4 131.5 L211.3 131.0 L212.2 130.8 L213.2 130.8 L214.2 130.7 L215.1 130.4 L216.0 129.9 M217.4 129.1 L218.2 128.6 L218.8 128.3 M220.3 127.3 L221.1 126.8 L222.0 126.3 L222.9 125.8 L223.8 125.4 L224.7 125.0 L225.6 124.6 L226.6 124.3 L226.7 124.2 M228.3 123.7 L229.2 123.4 L229.6 123.2 M231.1 122.7 L232.0 122.4 L233.0 122.1 L233.9 121.8 L234.9 121.4 L235.8 121.0 L236.7 120.6 L237.6 120.3 L237.8 120.2 M239.3 119.5 L240.1 119.0 L240.6 118.6 M242.1 117.7 L243.0 117.1 L243.8 116.6 L244.8 116.3 L245.7 116.1 L246.7 115.8 L247.7 115.6 L248.6 115.3 M250.1 114.6 L251.0 114.2 L251.5 113.9 M253.1 113.0 L254.0 112.7 L255.0 112.5 L256.0 112.3 L257.0 112.1 L257.9 111.8 L258.9 111.6 L259.9 111.3 M261.2 110.9 L262.2 110.7 L262.8 110.5 M264.3 110.0 L265.1 109.4 L266.0 108.9 L266.8 108.4 L267.6 107.9 L268.5 107.4 L269.5 107.1 L270.4 106.7 L270.8 106.6 M272.3 106.1 L273.2 105.7 L273.7 105.4 M275.1 104.5 L275.9 103.9 L276.7 103.3 L277.5 102.8 L278.4 102.3 L279.4 102.3 L280.4 102.3 L281.4 102.2 L281.8 102.2 M283.4 102.1 L284.2 101.6 L284.8 101.2 M286.3 100.3 L287.1 99.8 L288.1 99.4 L289.0 99.2 L290.0 99.0 L291.0 98.8 L292.0 98.6 L292.9 98.4 L293.1 98.4 M294.7 98.1 L295.7 97.9 L296.1 97.8 M297.8 97.2 L298.6 96.7 L299.5 96.2 L300.3 95.7 L301.2 95.2 L302.1 95.0 L303.1 95.0 L304.1 95.1 L304.5 95.1 M306.1 95.2 L307.1 95.1 L307.6 94.8 M309.1 93.8 L309.9 93.2 L310.7 92.7 L311.7 92.4 L312.7 92.3 L313.7 92.1 L314.7 92.0 L315.6 91.7 L316.0 91.5 M317.6 90.8 L318.6 90.4 L319.1 90.2 M320.6 89.6 L321.6 89.4 L322.6 89.3 L323.5 89.1 L324.5 88.9 L325.5 88.7 L326.5 88.5 L327.4 88.0 L327.6 88.0 M329.0 87.3 L329.9 86.9 L330.5 86.7 M332.1 86.4 L333.0 86.2 L334.0 85.9 L334.9 85.6 L335.8 85.2 L336.7 84.7 L337.6 84.3 L338.5 83.8 L339.1 83.5 M340.6 83.3 L341.6 83.3 L342.0 83.4 M343.6 83.5 L344.6 83.5 L345.5 83.3 L346.5 83.0 L347.5 82.7 L348.4 82.4 L349.4 82.1 L350.3 81.8 L350.7 81.7 M352.2 81.1 L353.1 80.8 L353.7 80.6 M355.2 80.1 L356.2 79.9 L357.2 79.6 L358.1 79.4 L359.1 79.1 L360.0 78.8 L361.0 78.5 L361.9 78.2 L362.1 78.1 M363.8 77.6 L364.8 77.3 L365.2 77.3 M367.0 76.9 L367.9 76.7 L368.9 76.5 L369.9 76.3 L370.9 76.2 L371.9 76.0 L372.9 75.9 L373.9 75.7 M375.6 75.4 L376.6 75.1 L377.0 75.0 M378.7 74.6 L379.7 74.4 L380.7 74.2 L381.7 74.0 L382.7 73.8 L383.6 73.6 L384.6 73.5 L385.6 73.3 L385.8 73.2 M387.4 72.9 L388.4 72.8 L389.0 72.7 M390.5 72.4 L391.5 72.1 L392.5 71.9 L393.4 71.7 L394.4 71.4 L395.4 71.2 L396.4 70.9 L397.3 70.7 L397.5 70.6 M399.2 70.1 L400.2 69.8 L400.6 69.7 M402.3 69.3 L403.3 69.1 L404.3 68.9 L405.3 68.7 L406.2 68.4 L407.2 68.2 L408.2 67.9 L409.1 67.6 L409.3 67.6 M410.9 67.3 L411.9 67.3 L412.5 67.3 M414.1 67.3 L415.0 66.9 L415.9 66.5 L416.8 66.1 L417.7 65.6 L418.7 65.3 L419.6 65.1 L420.6 64.9 L421.2 64.7 M422.8 64.4 L423.8 64.2 L424.4 64.2 M426.0 64.1 L427.0 64.1 L427.9 63.9 L428.9 63.6 L429.8 63.2 L430.7 62.9 L431.7 62.5 L432.6 62.1 L433.0 62.0 M434.6 62.0 L435.6 61.9 L436.2 61.9 M437.7 61.6 L438.7 61.3 L439.7 61.0 L440.6 60.7 L441.6 60.4 L442.5 60.1 L443.5 60.0 L444.5 59.9 L444.9 59.9 M446.7 59.7 L447.7 59.9 L448.1 59.9 M449.8 60.4 L450.8 60.6 L451.8 60.8 L452.7 60.7 L453.5 60.1 L454.3 59.5 L455.1 58.9 L455.9 58.4 L456.8 57.8 L457.1 57.6 M458.6 57.4 L459.6 57.5 L460.2 57.6 M461.8 57.8 L462.7 57.6 L463.6 57.2 L464.6 56.9 L465.5 56.5 L466.5 56.2 L467.4 56.0 L468.4 55.7 L468.8 55.7 M470.6 55.3 L471.5 55.0 L471.9 54.9 M473.7 54.6 L474.7 54.3 L475.6 54.1 L476.6 54.0 L477.6 54.0 L478.6 54.0 L479.6 54.1 L480.6 54.1 L480.8 54.1 M482.6 53.9 L483.5 53.6 L484.1 53.5 M485.6 53.0 L486.6 52.8 L487.6 52.7 L488.6 52.6 L489.6 52.4 L490.6 52.3 L491.6 52.3 L492.6 52.3 L493.0 52.3 M494.6 52.3 L495.6 52.3 L496.2 52.3 M497.8 51.5 L498.7 51.0 L499.6 50.6 L500.5 50.1 L501.4 49.8 L502.4 49.6 L503.4 49.3 L504.3 49.1 L504.9 49.0 M506.7 48.6 L507.7 48.6 L508.2 48.7 M509.8 48.9 L510.8 49.0 L511.8 49.0 L512.8 49.0 L513.8 49.0 L514.8 48.9 L515.8 48.9 L516.8 48.8 L517.2 48.7 M518.7 48.2 L519.7 47.9 L520.4 47.7 M522.0 47.6 L523.0 47.6 L524.0 47.6 L525.0 47.6 L526.0 47.4 L527.0 47.2 L528.0 47.1 L529.0 46.9 L529.4 46.8 M530.9 46.5 L531.9 46.3 L532.5 46.1 M534.0 45.8 L535.0 45.5 L536.0 45.3 L536.9 45.0 L537.9 44.7 L538.9 44.5 L539.8 44.2 L540.8 44.1 L541.4 44.1 M543.0 44.0 L544.0 44.0 L544.6 44.0 M546.2 43.9 L547.2 43.9 L548.2 43.8 L549.2 43.8 L550.2 43.6 L551.2 43.4 L552.1 43.2 L553.1 43.0 L553.5 42.9 M555.3 42.5 L556.3 42.3 L556.8 42.2 M558.4 41.9 L559.4 41.8 L560.4 41.7 L561.4 41.6 L562.4 41.5 L563.4 41.4 L564.4 41.2 L565.4 41.0 L565.9 40.9 M567.7 40.6 L568.7 40.4 L569.5 40.4 M571.3 40.3 L572.3 40.3 L573.3 40.3 L574.3 40.2 L575.3 40.0 L576.2 39.8 L577.2 39.5 L578.2 39.2 L579.1 38.9 L580.1 38.8 M582.1 39.2 L583.0 39.4 L584.0 39.5 L584.2 39.6 M586.3 39.1 L587.3 38.8 L588.3 38.5 L589.2 38.2 L590.2 37.9 L591.1 37.7 L592.1 37.6 L593.1 37.4 L594.1 37.3 L595.1 37.1 L596.1 36.9 L596.8 36.6 M599.3 35.3 L600.2 34.9 L601.1 34.4 L602.0 34.1 M604.6 33.6 L605.5 33.5 L606.5 33.8 L607.4 34.1 L608.4 34.4 L609.4 34.7 L610.3 34.7 L611.3 34.5 L612.3 34.3 L613.3 34.2 L614.3 34.0 L615.2 33.9 L616.2 34.2 L617.0 34.4 M619.4 35.2 L620.4 35.5 L621.3 35.2 L622.1 34.6 L622.3 34.5 M624.9 33.0 L625.7 32.4 L626.6 32.1 L627.6 31.9 L628.6 31.7 L629.6 31.6 L630.6 31.4 L631.5 31.2 L632.5 31.3 L633.5 31.5 L634.4 31.8 L635.4 32.1 L636.4 32.4 L637.2 32.0 M639.9 30.3 L640.8 29.7 L641.6 29.2 L642.5 28.8 L642.7 28.9 M645.3 29.8 L646.2 30.1 L647.2 30.3 L648.1 30.0 L649.0 29.6 L650.0 29.2 L650.9 28.8 L651.8 28.4 L652.7 28.0 L653.6 27.5 L654.5 27.1 L655.4 26.6 L656.3 26.2 L657.3 26.3 L657.9 26.4 M660.7 26.7 L661.6 26.8 L662.6 27.1 L663.4 27.2 M666.1 27.9 L667.1 27.8 L668.1 27.7 L669.1 27.6 L670.1 27.5 L670.3 27.5"/>
</g>
<text class="tk" x="74.5" y="468.8" text-anchor="end">0</text>
<text class="tk" x="74.5" y="356.0" text-anchor="end">100</text>
<text class="tk" x="74.5" y="243.2" text-anchor="end">200</text>
<text class="tk" x="74.5" y="130.4" text-anchor="end">300</text>
<text class="tk" x="74.5" y="17.6" text-anchor="end">400</text>
<text class="tk" x="77.05" y="492.5" textLength="12.50" lengthAdjust="spacingAndGlyphs">0</text>
<text class="tk" x="207.21" y="492.5" textLength="45.50" lengthAdjust="spacingAndGlyphs">0.05</text>
<text class="tk" x="360.59" y="492.5" textLength="32.50" lengthAdjust="spacingAndGlyphs">0.1</text>
<text class="tk" x="500.46" y="492.5" textLength="45.50" lengthAdjust="spacingAndGlyphs">0.15</text>
<text class="tk" x="653.78" y="492.5" textLength="32.50" lengthAdjust="spacingAndGlyphs">0.2</text>
<g>
<text class="lb" x="292.46" y="526.7" textLength="57.12" lengthAdjust="spacingAndGlyphs">True</text>
<text class="lb" x="356.62" y="526.7" textLength="70.93" lengthAdjust="spacingAndGlyphs">strain</text>
<text class="lb" style="font-size:33px" x="438.85" y="528.4" textLength="6.44" lengthAdjust="spacingAndGlyphs">[</text>
<text class="lb" x="443.70" y="526.7" textLength="9.73" lengthAdjust="spacingAndGlyphs">-</text>
<text class="lb" style="font-size:33px" x="453.75" y="528.4" textLength="6.22" lengthAdjust="spacingAndGlyphs">]</text>
</g>
<g transform="translate(22.3 342.7) rotate(-90)">
<text class="lb" x="-0.53" y="0.0" textLength="56.61" lengthAdjust="spacingAndGlyphs">True</text>
<text class="lb" x="63.87" y="0.0" textLength="68.07" lengthAdjust="spacingAndGlyphs">stress</text>
<text class="lb" style="font-size:33px" x="142.85" y="2.0" textLength="6.44" lengthAdjust="spacingAndGlyphs">[</text>
<text class="lb" x="148.68" y="0.0" textLength="58.06" lengthAdjust="spacingAndGlyphs">MPa</text>
<text class="lb" style="font-size:33px" x="205.35" y="2.0" textLength="6.22" lengthAdjust="spacingAndGlyphs">]</text>
</g>
<rect x="411.6" y="136.7" width="222.3" height="87.6" fill="#fff" stroke="#262626" stroke-width="1.3"/>
<g class="c" style="stroke-width:1.25"><path class="k" d="M416.8 153 H471.5"/><path class="ldr" d="M416.8 180.5 H471.5"/><path class="ldb" d="M416.8 207.8 H471.5"/></g>
<g>
<text class="lg" x="475.04" y="158.8" textLength="20.60" lengthAdjust="spacingAndGlyphs">0°</text>
<text class="lg" x="503.94" y="158.8" textLength="19.61" lengthAdjust="spacingAndGlyphs">(3</text>
<text class="lg" x="530.03" y="158.8" textLength="86.50" lengthAdjust="spacingAndGlyphs">samples)</text>
</g>
<g>
<text class="lg" x="475.16" y="186.2" textLength="31.66" lengthAdjust="spacingAndGlyphs">90°</text>
<text class="lg" x="515.14" y="186.2" textLength="19.61" lengthAdjust="spacingAndGlyphs">(3</text>
<text class="lg" x="541.23" y="186.2" textLength="86.50" lengthAdjust="spacingAndGlyphs">samples)</text>
</g>
<g>
<text class="lg" x="475.45" y="213.5" textLength="31.37" lengthAdjust="spacingAndGlyphs">45°</text>
<text class="lg" x="515.14" y="213.5" textLength="19.61" lengthAdjust="spacingAndGlyphs">(3</text>
<text class="lg" x="541.23" y="213.5" textLength="86.50" lengthAdjust="spacingAndGlyphs">samples)</text>
</g>
</svg></body></html>
